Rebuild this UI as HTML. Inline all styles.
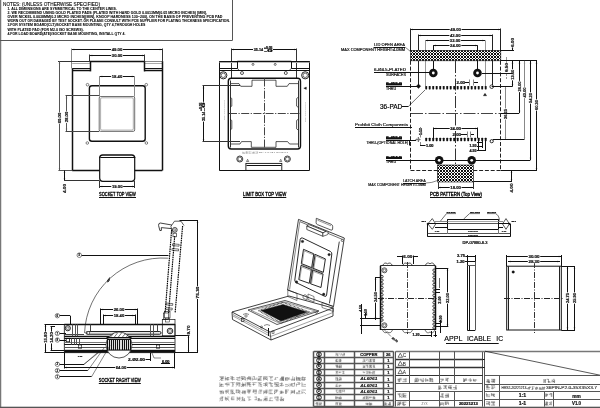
<!DOCTYPE html>
<html><head><meta charset="utf-8"><style>
html,body{margin:0;padding:0;background:#fff;width:600px;height:408px;overflow:hidden;}
svg{display:block;font-family:"Liberation Sans",sans-serif;will-change:transform;}
</style></head><body>
<svg width="600" height="408" viewBox="0 0 600 408">
<defs>
<pattern id="hatch" x="0" y="0" width="3" height="3" patternUnits="userSpaceOnUse">
<rect width="3" height="3" fill="#fff"/>
<path d="M0 0h1v1h-1zM2 0h1v1h-1zM1 1h1v1h-1zM0 2h1v1h-1zM2 2h1v1h-1z" fill="#111"/>
</pattern>
</defs>
<line x1="0.5" y1="0" x2="0.5" y2="408" stroke="#777" stroke-width="1.5"/>
<rect x="0" y="406.7" width="600" height="1.3" fill="#555"/>
<line x1="232.5" y1="0" x2="232.5" y2="40.2" stroke="#555" stroke-width="1"/>
<line x1="0" y1="40.5" x2="232.6" y2="40.5" stroke="#555" stroke-width="1"/>
<text x="3" y="6.2" font-size="4.9" text-anchor="start" font-weight="normal" fill="#000" font-family="Liberation Sans" textLength="97" lengthAdjust="spacingAndGlyphs" stroke="#000" stroke-width="0.1">NOTES: (UNLESS OTHERWISE SPECIFIED)</text>
<text x="7.4" y="10.1" font-size="3.6" text-anchor="start" font-weight="bold" fill="#000" font-family="Liberation Sans" textLength="109.5" lengthAdjust="spacingAndGlyphs"  stroke="#000" stroke-width="0.05">1. ALL DIMENSIONS ARE SYMMETRICAL TO THE CENTER LINES.</text>
<text x="7.4" y="14.1" font-size="3.6" text-anchor="start" font-weight="bold" fill="#000" font-family="Liberation Sans" textLength="199.6" lengthAdjust="spacingAndGlyphs"  stroke="#000" stroke-width="0.05">2. WE RECOMMEND USING GOLD PLATED PADS (PLATED WITH HARD GOLD 0.0013MM(0.05 MICRO INCHES) [MIN],</text>
<text x="7.4" y="18.1" font-size="3.6" text-anchor="start" font-weight="bold" fill="#000" font-family="Liberation Sans" textLength="215" lengthAdjust="spacingAndGlyphs"  stroke="#000" stroke-width="0.05">OVER NICKEL 0.0038MM(0.2 MICRO INCHES)[MIN], KNOOP HARDNESS 130~200), ON THE BASIS OF PREVENTING PCB PAD</text>
<text x="7.4" y="22" font-size="3.6" text-anchor="start" font-weight="bold" fill="#000" font-family="Liberation Sans" textLength="222.6" lengthAdjust="spacingAndGlyphs"  stroke="#000" stroke-width="0.05">WORN OUT OR DAMAGED BY TEST SOCKET. OR PLEASE CONSULT WITH PCB SUPPLIER FOR PLATING THICKNESS SPECIFICATION.</text>
<text x="7.4" y="26.4" font-size="3.6" text-anchor="start" font-weight="bold" fill="#000" font-family="Liberation Sans" textLength="138" lengthAdjust="spacingAndGlyphs"  stroke="#000" stroke-width="0.05">3.FOR SYSTEM BOARD(CLT)/SOCKET BASE MOUNTING, QTY 4,THROUGH HOLES</text>
<text x="7.4" y="30.6" font-size="3.6" text-anchor="start" font-weight="bold" fill="#000" font-family="Liberation Sans" textLength="76.3" lengthAdjust="spacingAndGlyphs"  stroke="#000" stroke-width="0.05">WITH PLATED PAD (FOR M2.0 ISO SCREWS).</text>
<text x="7.4" y="34.7" font-size="3.6" text-anchor="start" font-weight="bold" fill="#000" font-family="Liberation Sans" textLength="118" lengthAdjust="spacingAndGlyphs"  stroke="#000" stroke-width="0.05">4.FOR LOAD BOARD(ATE)/SOCKET BASE MOUNTING, INSTALL QTY 4.</text>
<line x1="71.7" y1="49.5" x2="162.3" y2="49.5" stroke="#111" stroke-width="1"/>
<polygon points="71.7,49.5 74.2,48.75 74.2,50.25" fill="#111"/>
<polygon points="162.3,49.5 159.8,50.25 159.8,48.75" fill="#111"/>
<rect x="111.08" y="47.35" width="11.84" height="3.87" fill="#fff"/>
<text x="117" y="51.05" font-size="4.3" text-anchor="middle" font-weight="bold" fill="#111" font-family="Liberation Sans" textLength="10.64" lengthAdjust="spacingAndGlyphs"  stroke="#111" stroke-width="0.2">49.00</text>
<line x1="89.7" y1="55.5" x2="144.5" y2="55.5" stroke="#111" stroke-width="1"/>
<polygon points="89.7,55.5 92.2,54.75 92.2,56.25" fill="#111"/>
<polygon points="144.5,55.5 142,56.25 142,54.75" fill="#111"/>
<rect x="111.18" y="53.35" width="11.84" height="3.87" fill="#fff"/>
<text x="117.1" y="57.05" font-size="4.3" text-anchor="middle" font-weight="bold" fill="#111" font-family="Liberation Sans" textLength="10.64" lengthAdjust="spacingAndGlyphs"  stroke="#111" stroke-width="0.2">30.00</text>
<line x1="71.5" y1="48.5" x2="71.5" y2="68.5" stroke="#888" stroke-width="1"/>
<line x1="162.5" y1="48.5" x2="162.5" y2="61.5" stroke="#333" stroke-width="1"/>
<line x1="89.5" y1="54.5" x2="89.5" y2="61.5" stroke="#333" stroke-width="1"/>
<line x1="144.5" y1="54.5" x2="144.5" y2="61.5" stroke="#333" stroke-width="1"/>
<line x1="58" y1="61.5" x2="89.7" y2="61.5" stroke="#333" stroke-width="1"/>
<line x1="89.7" y1="61.5" x2="144.5" y2="61.5" stroke="#111" stroke-width="1.5"/>
<line x1="144.5" y1="61.5" x2="162.3" y2="61.5" stroke="#888" stroke-width="1"/>
<line x1="72.2" y1="63.5" x2="90" y2="63.5" stroke="#aaa" stroke-width="1"/>
<line x1="72.2" y1="68.5" x2="90" y2="68.5" stroke="#111" stroke-width="1"/>
<line x1="72.2" y1="70.5" x2="90" y2="70.5" stroke="#111" stroke-width="1.5"/>
<line x1="144.3" y1="63.5" x2="162.3" y2="63.5" stroke="#aaa" stroke-width="1"/>
<line x1="144.3" y1="68.5" x2="162.3" y2="68.5" stroke="#111" stroke-width="1"/>
<line x1="144.3" y1="70.5" x2="162.3" y2="70.5" stroke="#111" stroke-width="1.5"/>
<line x1="90.5" y1="61.2" x2="90.5" y2="71.4" stroke="#111" stroke-width="1.5"/>
<line x1="144.5" y1="61.2" x2="144.5" y2="71.4" stroke="#111" stroke-width="1.5"/>
<line x1="72.5" y1="68.6" x2="72.5" y2="170.5" stroke="#111" stroke-width="1.5"/>
<line x1="162.5" y1="61.2" x2="162.5" y2="170.5" stroke="#111" stroke-width="1.5"/>
<line x1="72.2" y1="170.5" x2="99.7" y2="170.5" stroke="#111" stroke-width="1.5"/>
<line x1="134.7" y1="170.5" x2="162.3" y2="170.5" stroke="#111" stroke-width="1.5"/>
<rect x="89.4" y="85.7" width="55.8" height="55.6" fill="none" stroke="#111" stroke-width="1.4" rx="2.5"/>
<circle cx="87.5" cy="84.7" r="1.3" fill="#fff" stroke="#111" stroke-width="0.5"/>
<circle cx="146.3" cy="84.7" r="1.3" fill="#fff" stroke="#111" stroke-width="0.5"/>
<circle cx="87.3" cy="143" r="1.3" fill="#fff" stroke="#111" stroke-width="0.5"/>
<circle cx="146.4" cy="143" r="1.3" fill="#fff" stroke="#111" stroke-width="0.5"/>
<line x1="99.7" y1="76.5" x2="134.4" y2="76.5" stroke="#111" stroke-width="1"/>
<polygon points="99.7,76.5 102.2,75.75 102.2,77.25" fill="#111"/>
<polygon points="134.4,76.5 131.9,77.25 131.9,75.75" fill="#111"/>
<rect x="111.13" y="74.35" width="11.84" height="3.87" fill="#fff"/>
<text x="117.05" y="78.05" font-size="4.3" text-anchor="middle" font-weight="bold" fill="#111" font-family="Liberation Sans" textLength="10.64" lengthAdjust="spacingAndGlyphs"  stroke="#111" stroke-width="0.2">18.40</text>
<line x1="99.5" y1="76" x2="99.5" y2="96.5" stroke="#888" stroke-width="1"/>
<line x1="134.5" y1="76" x2="134.5" y2="96.5" stroke="#888" stroke-width="1"/>
<rect x="99.2" y="96.5" width="35.5" height="34.9" fill="none" stroke="#333" stroke-width="0.7" rx="1.5"/>
<rect x="100.6" y="97.8" width="32.7" height="32.3" fill="none" stroke="#777" stroke-width="0.6" rx="1.2"/>
<line x1="59.5" y1="61.2" x2="59.5" y2="170.5" stroke="#555" stroke-width="1"/>
<polygon points="59.5,61.2 60.25,63.7 58.75,63.7" fill="#555"/>
<polygon points="59.5,170.5 58.75,168 60.25,168" fill="#555"/>
<rect x="57.35" y="112.08" width="3.87" height="11.84" fill="#fff"/>
<text x="61.05" y="118" font-size="4.3" text-anchor="middle" font-weight="bold" fill="#111" font-family="Liberation Sans" textLength="10.64" lengthAdjust="spacingAndGlyphs" transform="rotate(-90 61.05 118)"  stroke="#111" stroke-width="0.2">60.00</text>
<line x1="66.5" y1="95.7" x2="66.5" y2="131.3" stroke="#555" stroke-width="1"/>
<polygon points="66.5,95.7 67.25,98.2 65.75,98.2" fill="#555"/>
<polygon points="66.5,131.3 65.75,128.8 67.25,128.8" fill="#555"/>
<rect x="64.35" y="111.08" width="3.87" height="11.84" fill="#fff"/>
<text x="68.05" y="117" font-size="4.3" text-anchor="middle" font-weight="bold" fill="#111" font-family="Liberation Sans" textLength="10.64" lengthAdjust="spacingAndGlyphs" transform="rotate(-90 68.05 117)"  stroke="#111" stroke-width="0.2">28.00</text>
<line x1="65.5" y1="95.5" x2="99.2" y2="95.5" stroke="#444" stroke-width="1"/>
<line x1="65.5" y1="131.5" x2="99.2" y2="131.5" stroke="#444" stroke-width="1"/>
<line x1="58.4" y1="170.5" x2="72.2" y2="170.5" stroke="#555" stroke-width="1"/>
<path d="M99.7 157 L99.7 178.3 Q99.7 181.3 102.7 181.3 L131.7 181.3 Q134.7 181.3 134.7 178.3 L134.7 157" fill="none" stroke="#111" stroke-width="1.2" />
<path d="M99.7 158 Q99.7 155 102.7 155 L131.7 155 Q134.7 155 134.7 158" fill="none" stroke="#111" stroke-width="1.3" />
<line x1="100.5" y1="157.5" x2="134" y2="157.5" stroke="#111" stroke-width="1"/>
<line x1="64.5" y1="170.5" x2="64.5" y2="181" stroke="#111" stroke-width="1"/>
<polygon points="64.5,170.5 65.25,173 63.75,173" fill="#111"/>
<polygon points="64.5,181 63.75,178.5 65.25,178.5" fill="#111"/>
<text x="66.2" y="188.5" font-size="4.3" text-anchor="middle" font-weight="bold" fill="#111" font-family="Liberation Sans" textLength="9" lengthAdjust="spacingAndGlyphs" transform="rotate(-90 66.2 188.5)"  stroke="#111" stroke-width="0.2">4.00</text>
<line x1="64" y1="180.5" x2="99.7" y2="180.5" stroke="#333" stroke-width="1"/>
<line x1="99.7" y1="186.5" x2="134.7" y2="186.5" stroke="#111" stroke-width="1"/>
<polygon points="99.7,186.5 102.2,185.75 102.2,187.25" fill="#111"/>
<polygon points="134.7,186.5 132.2,187.25 132.2,185.75" fill="#111"/>
<rect x="111.28" y="184.35" width="11.84" height="3.87" fill="#fff"/>
<text x="117.2" y="188.05" font-size="4.3" text-anchor="middle" font-weight="bold" fill="#111" font-family="Liberation Sans" textLength="10.64" lengthAdjust="spacingAndGlyphs"  stroke="#111" stroke-width="0.2">19.00</text>
<line x1="99.5" y1="181" x2="99.5" y2="188" stroke="#333" stroke-width="1"/>
<line x1="134.5" y1="181" x2="134.5" y2="188" stroke="#333" stroke-width="1"/>
<text x="99" y="195.6" font-size="5.1" text-anchor="start" font-weight="normal" fill="#000" font-family="Liberation Sans" textLength="36.8" lengthAdjust="spacingAndGlyphs"  stroke="#000" stroke-width="0.3">SOCKET  TOP  VIEW</text>
<line x1="99" y1="197.5" x2="136" y2="197.5" stroke="#111" stroke-width="1"/>
<line x1="231.2" y1="49.5" x2="296.5" y2="49.5" stroke="#111" stroke-width="1"/>
<polygon points="231.2,49.5 233.7,48.75 233.7,50.25" fill="#111"/>
<polygon points="296.5,49.5 294,50.25 294,48.75" fill="#111"/>
<rect x="253" y="46.5" width="20" height="6" fill="#fff"/>
<text x="253.7" y="51.3" font-size="3.9" text-anchor="start" font-weight="bold" fill="#111" font-family="Liberation Sans" textLength="9.5" lengthAdjust="spacingAndGlyphs"  stroke="#111" stroke-width="0.2">35.14</text>
<text x="264" y="49" font-size="2.6" text-anchor="start" font-weight="bold" fill="#111" font-family="Liberation Sans" textLength="8.5" lengthAdjust="spacingAndGlyphs"  stroke="#111" stroke-width="0.2">+0.05</text>
<text x="264" y="51.9" font-size="2.6" text-anchor="start" font-weight="bold" fill="#111" font-family="Liberation Sans" textLength="8.5" lengthAdjust="spacingAndGlyphs"  stroke="#111" stroke-width="0.2">-0</text>
<line x1="231.5" y1="48.5" x2="231.5" y2="79" stroke="#333" stroke-width="1"/>
<line x1="296.5" y1="48.5" x2="296.5" y2="79" stroke="#333" stroke-width="1"/>
<line x1="219.5" y1="61.5" x2="309.5" y2="61.5" stroke="#111" stroke-width="1"/>
<line x1="219.5" y1="61.3" x2="219.5" y2="170.4" stroke="#111" stroke-width="1"/>
<line x1="309.5" y1="61.3" x2="309.5" y2="170.4" stroke="#111" stroke-width="1"/>
<line x1="219.3" y1="170.5" x2="309.5" y2="170.5" stroke="#111" stroke-width="1"/>
<line x1="219.5" y1="62.5" x2="237" y2="62.5" stroke="#aaa" stroke-width="1"/>
<line x1="291.5" y1="62.5" x2="309.5" y2="62.5" stroke="#aaa" stroke-width="1"/>
<line x1="219.5" y1="68.5" x2="237.3" y2="68.5" stroke="#111" stroke-width="1"/>
<line x1="291.3" y1="68.5" x2="309.5" y2="68.5" stroke="#111" stroke-width="1"/>
<line x1="219.5" y1="70.5" x2="309.5" y2="70.5" stroke="#111" stroke-width="1"/>
<line x1="237.5" y1="61.3" x2="237.5" y2="68.6" stroke="#111" stroke-width="1"/>
<line x1="291.5" y1="61.3" x2="291.5" y2="68.6" stroke="#111" stroke-width="1"/>
<line x1="237.3" y1="61.5" x2="291.3" y2="61.5" stroke="#111" stroke-width="1.5"/>
<polyline points="237.6,68.5 238.8,70" fill="none" stroke="#111" stroke-width="0.7"/>
<polyline points="291,68.5 289.8,70" fill="none" stroke="#111" stroke-width="0.7"/>
<circle cx="253" cy="64.4" r="1" fill="none" stroke="#111" stroke-width="0.6"/>
<circle cx="275.2" cy="64.4" r="1" fill="none" stroke="#111" stroke-width="0.6"/>
<circle cx="242" cy="73" r="1.5" fill="none" stroke="#111" stroke-width="0.7"/>
<circle cx="285.8" cy="73" r="1.5" fill="none" stroke="#111" stroke-width="0.7"/>
<circle cx="223.3" cy="75.3" r="3.6" fill="none" stroke="#111" stroke-width="0.9"/>
<circle cx="223.3" cy="75.3" r="2.2" fill="none" stroke="#111" stroke-width="0.6"/>
<circle cx="305.2" cy="75.3" r="3.6" fill="none" stroke="#111" stroke-width="0.9"/>
<circle cx="305.2" cy="75.3" r="2.2" fill="none" stroke="#111" stroke-width="0.6"/>
<rect x="228.3" y="78.3" width="72.2" height="70.7" fill="none" stroke="#111" stroke-width="1.4" rx="3"/>
<path d="M230.2 83.6 H239 L240.7 86.3 H252 V80.2 H276 V86.3 H287.3 L289 83.6 H298.2" fill="none" stroke="#111" stroke-width="0.7" />
<path d="M230.2 144 H240 L241.5 141.6 H251.3 V147.3 H276 V141.6 H287.6 L289.6 144 H298.2" fill="none" stroke="#111" stroke-width="0.7" />
<line x1="230.5" y1="80.5" x2="230.5" y2="147.5" stroke="#333" stroke-width="1"/>
<line x1="298.5" y1="80.5" x2="298.5" y2="147.5" stroke="#333" stroke-width="1"/>
<path d="M230.2 97.3 L231.8 98.5 V106.1 L230.2 107.3" fill="none" stroke="#111" stroke-width="0.7" />
<path d="M298.2 97.3 L296.6 98.5 V106.1 L298.2 107.3" fill="none" stroke="#111" stroke-width="0.7" />
<path d="M230.2 119.3 L231.8 120.5 V128.8 L230.2 130" fill="none" stroke="#111" stroke-width="0.7" />
<path d="M298.2 119.3 L296.6 120.5 V128.8 L298.2 130" fill="none" stroke="#111" stroke-width="0.7" />
<line x1="264.5" y1="78.5" x2="264.5" y2="149" stroke="#444" stroke-width="1" stroke-dasharray="8 1.5 1.2 1.5"/>
<line x1="229" y1="113.5" x2="300" y2="113.5" stroke="#444" stroke-width="1" stroke-dasharray="8 1.5 1.2 1.5"/>
<line x1="203.5" y1="85.8" x2="203.5" y2="141.5" stroke="#111" stroke-width="1"/>
<polygon points="203.5,85.8 204.25,88.3 202.75,88.3" fill="#111"/>
<polygon points="203.5,141.5 202.75,139 204.25,139" fill="#111"/>
<rect x="200.5" y="101.8" width="6" height="19.8" fill="#fff"/>
<text x="204.6" y="121" font-size="3.9" text-anchor="start" font-weight="bold" fill="#111" font-family="Liberation Sans" textLength="9.5" lengthAdjust="spacingAndGlyphs" transform="rotate(-90 204.6 121)"  stroke="#111" stroke-width="0.2">35.14</text>
<text x="202.4" y="111" font-size="2.6" text-anchor="start" font-weight="bold" fill="#111" font-family="Liberation Sans" textLength="8.5" lengthAdjust="spacingAndGlyphs" transform="rotate(-90 202.4 111)"  stroke="#111" stroke-width="0.2">+0.05</text>
<text x="205.3" y="111" font-size="2.6" text-anchor="start" font-weight="bold" fill="#111" font-family="Liberation Sans" textLength="8.5" lengthAdjust="spacingAndGlyphs" transform="rotate(-90 205.3 111)"  stroke="#111" stroke-width="0.2">-0</text>
<line x1="202.5" y1="85.5" x2="240" y2="85.5" stroke="#333" stroke-width="1"/>
<line x1="202.5" y1="141.5" x2="240" y2="141.5" stroke="#333" stroke-width="1"/>
<path d="M242.5 152.4H243.81 M242.76 152.88H244.34 M242.5 153.41H245.12 M242.76 151.68V153.6 M244.86 151.92V153.6 M245.7 151.92H248.32 M245.7 152.4H248.06 M245.7 153.41H248.32 M246.49 151.2V153.6 M248.9 151.92H251.52 M248.9 153.41H251.52 M249.16 151.2V153.6 M253.41 151.92H254.46 M252.36 152.4H254.46 M252.36 152.88H254.72 M252.89 153.41H254.72 M253.94 151.92V152.88 M253.41 152.4L252.1 153.6 M255.3 151.92H257.92 M255.3 153.41H257.92 M257.14 151.92V153.12 M257.66 151.68V152.88" fill="none" stroke="#888" stroke-width="0.35"/>
<text x="259" y="153.3" font-size="2.1" text-anchor="start" font-weight="normal" fill="#666" font-family="Liberation Sans" textLength="29" lengthAdjust="spacingAndGlyphs" >BGA P-W-P2 0-35X35X3.7</text>
<circle cx="239.8" cy="159" r="3" fill="none" stroke="#111" stroke-width="0.8"/>
<circle cx="239.8" cy="159" r="1.9" fill="none" stroke="#111" stroke-width="0.6"/>
<circle cx="287.4" cy="159" r="3" fill="none" stroke="#111" stroke-width="0.8"/>
<circle cx="287.4" cy="159" r="1.9" fill="none" stroke="#111" stroke-width="0.6"/>
<polygon points="246.5,161.5 247.6,159.3 248.7,161.5" fill="none" stroke="#111" stroke-width="0.5"/>
<polygon points="279.6,161.5 280.7,159.3 281.8,161.5" fill="none" stroke="#111" stroke-width="0.5"/>
<rect x="245.9" y="163.4" width="35.9" height="7" fill="none" stroke="#111" stroke-width="0.9"/>
<line x1="246.5" y1="165.5" x2="281.2" y2="165.5" stroke="#111" stroke-width="1"/>
<text x="225" y="120" font-size="1.9" text-anchor="start" font-weight="normal" fill="#888" font-family="Liberation Sans" textLength="20" lengthAdjust="spacingAndGlyphs" transform="rotate(-90 225 120)" >PO XXXXXXX</text>
<text x="306" y="122" font-size="1.9" text-anchor="start" font-weight="normal" fill="#888" font-family="Liberation Sans" textLength="20" lengthAdjust="spacingAndGlyphs" transform="rotate(-90 306 122)" >PO XXXXXXX</text>
<polygon points="303.8,88.2 306.3,87 306.3,89.4" fill="#111" stroke="#111" stroke-width="0.4"/>
<text x="243" y="195.6" font-size="5.1" text-anchor="start" font-weight="normal" fill="#000" font-family="Liberation Sans" textLength="43.3" lengthAdjust="spacingAndGlyphs"  stroke="#000" stroke-width="0.3">LIMIT BOX   TOP VIEW</text>
<line x1="243" y1="197.5" x2="286.3" y2="197.5" stroke="#111" stroke-width="1"/>
<line x1="410.5" y1="29.5" x2="500.8" y2="29.5" stroke="#111" stroke-width="1"/>
<polygon points="410.5,29.5 413,28.75 413,30.25" fill="#111"/>
<polygon points="500.8,29.5 498.3,30.25 498.3,28.75" fill="#111"/>
<rect x="449.73" y="27.35" width="11.84" height="3.87" fill="#fff"/>
<text x="455.65" y="31.05" font-size="4.3" text-anchor="middle" font-weight="bold" fill="#111" font-family="Liberation Sans" textLength="10.64" lengthAdjust="spacingAndGlyphs"  stroke="#111" stroke-width="0.2">49.00</text>
<line x1="418.3" y1="35.5" x2="492.3" y2="35.5" stroke="#111" stroke-width="1"/>
<polygon points="418.3,35.5 420.8,34.75 420.8,36.25" fill="#111"/>
<polygon points="492.3,35.5 489.8,36.25 489.8,34.75" fill="#111"/>
<rect x="449.38" y="33.35" width="11.84" height="3.87" fill="#fff"/>
<text x="455.3" y="37.05" font-size="4.3" text-anchor="middle" font-weight="bold" fill="#111" font-family="Liberation Sans" textLength="10.64" lengthAdjust="spacingAndGlyphs"  stroke="#111" stroke-width="0.2">43.00</text>
<line x1="425.3" y1="40.5" x2="485" y2="40.5" stroke="#111" stroke-width="1"/>
<polygon points="425.3,40.5 427.8,39.75 427.8,41.25" fill="#111"/>
<polygon points="485,40.5 482.5,41.25 482.5,39.75" fill="#111"/>
<rect x="449.23" y="38.35" width="11.84" height="3.87" fill="#fff"/>
<text x="455.15" y="42.05" font-size="4.3" text-anchor="middle" font-weight="bold" fill="#111" font-family="Liberation Sans" textLength="10.64" lengthAdjust="spacingAndGlyphs"  stroke="#111" stroke-width="0.2">32.00</text>
<line x1="433.3" y1="45.5" x2="477.5" y2="45.5" stroke="#111" stroke-width="1"/>
<polygon points="433.3,45.5 435.8,44.75 435.8,46.25" fill="#111"/>
<polygon points="477.5,45.5 475,46.25 475,44.75" fill="#111"/>
<rect x="449.48" y="43.35" width="11.84" height="3.87" fill="#fff"/>
<text x="455.4" y="47.05" font-size="4.3" text-anchor="middle" font-weight="bold" fill="#111" font-family="Liberation Sans" textLength="10.64" lengthAdjust="spacingAndGlyphs"  stroke="#111" stroke-width="0.2">24.00</text>
<line x1="410.5" y1="28.5" x2="410.5" y2="51" stroke="#222" stroke-width="1"/>
<line x1="500.5" y1="28.5" x2="500.5" y2="51" stroke="#222" stroke-width="1"/>
<line x1="418.5" y1="34.5" x2="418.5" y2="86" stroke="#222" stroke-width="1"/>
<line x1="492.5" y1="34.5" x2="492.5" y2="85" stroke="#222" stroke-width="1"/>
<line x1="425.5" y1="40.3" x2="425.5" y2="86" stroke="#999" stroke-width="1"/>
<line x1="485.5" y1="40.3" x2="485.5" y2="86" stroke="#999" stroke-width="1"/>
<line x1="433.5" y1="45.3" x2="433.5" y2="70" stroke="#111" stroke-width="1"/>
<line x1="477.5" y1="45.3" x2="477.5" y2="70" stroke="#111" stroke-width="1"/>
<rect x="410.5" y="50.3" width="90.3" height="10.5" fill="url(#hatch)" stroke="#111" stroke-width="0.6"/>
<rect x="437.5" y="165" width="35.8" height="17" fill="url(#hatch)" stroke="#111" stroke-width="0.6"/>
<line x1="410.5" y1="60.8" x2="410.5" y2="170.7" stroke="#222" stroke-width="1" stroke-dasharray="4 1.8"/>
<line x1="500.5" y1="60.8" x2="500.5" y2="170.7" stroke="#222" stroke-width="1" stroke-dasharray="4 1.8"/>
<line x1="410.5" y1="170.5" x2="437.5" y2="170.5" stroke="#222" stroke-width="1" stroke-dasharray="4 1.8"/>
<line x1="473.3" y1="170.5" x2="500.8" y2="170.5" stroke="#222" stroke-width="1" stroke-dasharray="4 1.8"/>
<line x1="455.5" y1="61" x2="455.5" y2="165" stroke="#333" stroke-width="1" stroke-dasharray="12 2 1.5 2"/>
<line x1="411" y1="113.5" x2="500.5" y2="113.5" stroke="#444" stroke-width="1" stroke-dasharray="12 2 1.5 2"/>
<circle cx="433.3" cy="73" r="4.3" fill="#111" stroke="#111" stroke-width="0"/>
<circle cx="433.3" cy="73" r="1.4" fill="#fff" stroke="#fff" stroke-width="0"/>
<circle cx="477.5" cy="73" r="4.3" fill="#111" stroke="#111" stroke-width="0"/>
<circle cx="477.5" cy="73" r="1.4" fill="#fff" stroke="#fff" stroke-width="0"/>
<circle cx="439.2" cy="160.3" r="4.3" fill="#111" stroke="#111" stroke-width="0"/>
<circle cx="439.2" cy="160.3" r="1.4" fill="#fff" stroke="#fff" stroke-width="0"/>
<circle cx="471.7" cy="160.3" r="4.3" fill="#111" stroke="#111" stroke-width="0"/>
<circle cx="471.7" cy="160.3" r="1.4" fill="#fff" stroke="#fff" stroke-width="0"/>
<rect x="425.25" y="85.95" width="1.9" height="3.5" rx="0.6" fill="#111"/>
<rect x="428.75" y="85.95" width="1.9" height="3.5" rx="0.6" fill="#111"/>
<rect x="432.25" y="85.95" width="1.9" height="3.5" rx="0.6" fill="#111"/>
<rect x="435.75" y="85.95" width="1.9" height="3.5" rx="0.6" fill="#111"/>
<rect x="439.25" y="85.95" width="1.9" height="3.5" rx="0.6" fill="#111"/>
<rect x="442.75" y="85.95" width="1.9" height="3.5" rx="0.6" fill="#111"/>
<rect x="446.25" y="85.95" width="1.9" height="3.5" rx="0.6" fill="#111"/>
<rect x="449.75" y="85.95" width="1.9" height="3.5" rx="0.6" fill="#111"/>
<rect x="453.25" y="85.95" width="1.9" height="3.5" rx="0.6" fill="#111"/>
<rect x="456.75" y="85.95" width="1.9" height="3.5" rx="0.6" fill="#111"/>
<rect x="460.25" y="85.95" width="1.9" height="3.5" rx="0.6" fill="#111"/>
<rect x="463.75" y="85.95" width="1.9" height="3.5" rx="0.6" fill="#111"/>
<rect x="467.25" y="85.95" width="1.9" height="3.5" rx="0.6" fill="#111"/>
<rect x="470.75" y="85.95" width="1.9" height="3.5" rx="0.6" fill="#111"/>
<rect x="474.25" y="85.95" width="1.9" height="3.5" rx="0.6" fill="#111"/>
<rect x="477.75" y="85.95" width="1.9" height="3.5" rx="0.6" fill="#111"/>
<rect x="481.25" y="85.95" width="1.9" height="3.5" rx="0.6" fill="#111"/>
<rect x="484.75" y="85.95" width="1.9" height="3.5" rx="0.6" fill="#111"/>
<rect x="425.25" y="137.65" width="1.9" height="3.5" rx="0.6" fill="#111"/>
<rect x="428.75" y="137.65" width="1.9" height="3.5" rx="0.6" fill="#111"/>
<rect x="432.25" y="137.65" width="1.9" height="3.5" rx="0.6" fill="#111"/>
<rect x="435.75" y="137.65" width="1.9" height="3.5" rx="0.6" fill="#111"/>
<rect x="439.25" y="137.65" width="1.9" height="3.5" rx="0.6" fill="#111"/>
<rect x="442.75" y="137.65" width="1.9" height="3.5" rx="0.6" fill="#111"/>
<rect x="446.25" y="137.65" width="1.9" height="3.5" rx="0.6" fill="#111"/>
<rect x="449.75" y="137.65" width="1.9" height="3.5" rx="0.6" fill="#111"/>
<rect x="453.25" y="137.65" width="1.9" height="3.5" rx="0.6" fill="#111"/>
<rect x="456.75" y="137.65" width="1.9" height="3.5" rx="0.6" fill="#111"/>
<rect x="460.25" y="137.65" width="1.9" height="3.5" rx="0.6" fill="#111"/>
<rect x="463.75" y="137.65" width="1.9" height="3.5" rx="0.6" fill="#111"/>
<rect x="467.25" y="137.65" width="1.9" height="3.5" rx="0.6" fill="#111"/>
<rect x="470.75" y="137.65" width="1.9" height="3.5" rx="0.6" fill="#111"/>
<rect x="474.25" y="137.65" width="1.9" height="3.5" rx="0.6" fill="#111"/>
<rect x="477.75" y="137.65" width="1.9" height="3.5" rx="0.6" fill="#111"/>
<rect x="481.25" y="137.65" width="1.9" height="3.5" rx="0.6" fill="#111"/>
<rect x="484.75" y="137.65" width="1.9" height="3.5" rx="0.6" fill="#111"/>
<polygon points="418.5,83.9 420.8,86.2 418.5,88.5 416.2,86.2" fill="#111" stroke="#111" stroke-width="0.3"/>
<circle cx="491.7" cy="86.7" r="1.8" fill="#fff" stroke="#111" stroke-width="0.8"/>
<polygon points="483.3,95.8 485,93.2 486.7,95.8" fill="#111" stroke="#111" stroke-width="0.3"/>
<circle cx="418" cy="139.5" r="1.6" fill="none" stroke="#777" stroke-width="0.5"/>
<line x1="415.5" y1="139.5" x2="420.5" y2="139.5" stroke="#777" stroke-width="1"/>
<line x1="418.5" y1="137" x2="418.5" y2="142" stroke="#777" stroke-width="1"/>
<circle cx="491.7" cy="141.2" r="1.6" fill="#fff" stroke="#111" stroke-width="0.9"/>
<text x="405" y="45.8" font-size="3" text-anchor="end" font-weight="normal" fill="#111" font-family="Liberation Sans" textLength="31" lengthAdjust="spacingAndGlyphs"  stroke="#111" stroke-width="0.14">LID OPEN AREA</text>
<line x1="373.5" y1="47.5" x2="405" y2="47.5" stroke="#111" stroke-width="1"/>
<line x1="405" y1="47" x2="410.5" y2="51.5" stroke="#111" stroke-width="0.5"/>
<text x="405" y="50.8" font-size="3" text-anchor="end" font-weight="normal" fill="#111" font-family="Liberation Sans" textLength="64" lengthAdjust="spacingAndGlyphs"  stroke="#111" stroke-width="0.14">MAX COMPONENT HEIGHT:4.0MM</text>
<text x="406" y="71.2" font-size="3" text-anchor="end" font-weight="normal" fill="#111" font-family="Liberation Sans" textLength="32" lengthAdjust="spacingAndGlyphs"  stroke="#111" stroke-width="0.14">6-Ø4.5-PLATED</text>
<text x="406" y="76.3" font-size="3" text-anchor="end" font-weight="normal" fill="#111" font-family="Liberation Sans" textLength="20" lengthAdjust="spacingAndGlyphs"  stroke="#111" stroke-width="0.14">SURFACES</text>
<line x1="374" y1="72.5" x2="430" y2="72.5" stroke="#111" stroke-width="1"/>
<text x="386" y="85.4" font-size="3" text-anchor="start" font-weight="bold" fill="#111" font-family="Liberation Sans" textLength="16" lengthAdjust="spacingAndGlyphs"  stroke="#111" stroke-width="0.2">6-Ø2.0</text>
<rect x="386" y="83.2" width="16" height="2.2" fill="#111"/>
<text x="386" y="89.6" font-size="2.8" text-anchor="start" font-weight="normal" fill="#111" font-family="Liberation Sans" textLength="10" lengthAdjust="spacingAndGlyphs"  stroke="#111" stroke-width="0.14">THRU</text>
<line x1="386" y1="86.5" x2="417" y2="86.5" stroke="#111" stroke-width="1"/>
<text x="402.3" y="108.7" font-size="6.3" text-anchor="end" font-weight="normal" fill="#000" font-family="Liberation Sans" textLength="22.3" lengthAdjust="spacingAndGlyphs"  stroke="#000" stroke-width="0.18">36-PAD</text>
<line x1="402" y1="106.5" x2="408.5" y2="106.5" stroke="#111" stroke-width="1"/>
<line x1="408.5" y1="106.3" x2="425" y2="90" stroke="#111" stroke-width="0.6"/>
<text x="355" y="126" font-size="3.2" text-anchor="start" font-weight="normal" fill="#111" font-family="Liberation Sans" textLength="53" lengthAdjust="spacingAndGlyphs"  stroke="#111" stroke-width="0.14">Prohibit Cloth Components</text>
<line x1="355" y1="127.5" x2="412" y2="127.5" stroke="#111" stroke-width="1"/>
<text x="421.8" y="135" font-size="2.8" text-anchor="start" font-weight="bold" fill="#111" font-family="Liberation Sans" textLength="7" lengthAdjust="spacingAndGlyphs" transform="rotate(-90 421.8 135)"  stroke="#111" stroke-width="0.2">1.50</text>
<line x1="420.5" y1="127" x2="420.5" y2="137.5" stroke="#888" stroke-width="1"/>
<text x="386" y="139.4" font-size="3" text-anchor="start" font-weight="bold" fill="#111" font-family="Liberation Sans" textLength="16" lengthAdjust="spacingAndGlyphs"  stroke="#111" stroke-width="0.2">6-Ø2.0</text>
<rect x="386" y="137.2" width="16" height="2.2" fill="#111"/>
<text x="366.3" y="144.4" font-size="3" text-anchor="start" font-weight="normal" fill="#111" font-family="Liberation Sans" textLength="42" lengthAdjust="spacingAndGlyphs"  stroke="#111" stroke-width="0.14">THRU-(OPTIONAL HOLE)</text>
<line x1="386" y1="140.5" x2="416" y2="140.5" stroke="#111" stroke-width="1"/>
<line x1="386" y1="140.5" x2="409" y2="140.5" stroke="#111" stroke-width="1"/>
<line x1="409.5" y1="140.5" x2="409.5" y2="145.5" stroke="#111" stroke-width="1"/>
<text x="426" y="147" font-size="3" text-anchor="start" font-weight="bold" fill="#111" font-family="Liberation Sans" textLength="7.5" lengthAdjust="spacingAndGlyphs"  stroke="#111" stroke-width="0.2">1.00</text>
<line x1="420.5" y1="142" x2="420.5" y2="146" stroke="#888" stroke-width="1"/>
<line x1="420" y1="145.5" x2="425.5" y2="145.5" stroke="#111" stroke-width="1"/>
<text x="386" y="159" font-size="3" text-anchor="start" font-weight="bold" fill="#111" font-family="Liberation Sans" textLength="16" lengthAdjust="spacingAndGlyphs"  stroke="#111" stroke-width="0.2">6-Ø4.5</text>
<rect x="386" y="156.8" width="16" height="2.2" fill="#111"/>
<text x="386" y="163.2" font-size="2.8" text-anchor="start" font-weight="normal" fill="#111" font-family="Liberation Sans" textLength="10" lengthAdjust="spacingAndGlyphs"  stroke="#111" stroke-width="0.14">THRU</text>
<line x1="386" y1="160.5" x2="435.5" y2="160.5" stroke="#111" stroke-width="1"/>
<line x1="443" y1="160.5" x2="468" y2="160.5" stroke="#111" stroke-width="1"/>
<line x1="475.5" y1="160.5" x2="530.2" y2="160.5" stroke="#111" stroke-width="1"/>
<text x="425.8" y="181.8" font-size="3" text-anchor="end" font-weight="normal" fill="#111" font-family="Liberation Sans" textLength="22.8" lengthAdjust="spacingAndGlyphs"  stroke="#111" stroke-width="0.14">LATCH AREA</text>
<text x="425.8" y="186.3" font-size="3" text-anchor="end" font-weight="normal" fill="#111" font-family="Liberation Sans" textLength="57.5" lengthAdjust="spacingAndGlyphs"  stroke="#111" stroke-width="0.14">MAX COMPONENT HEIGHT:1.5MM</text>
<line x1="403" y1="183.5" x2="425.8" y2="183.5" stroke="#111" stroke-width="1"/>
<path d="M425.8 183 Q432 183 437.5 180.5" fill="none" stroke="#111" stroke-width="0.5" />
<line x1="438" y1="187.5" x2="473.3" y2="187.5" stroke="#111" stroke-width="1"/>
<polygon points="438,187.5 440.5,186.75 440.5,188.25" fill="#111"/>
<polygon points="473.3,187.5 470.8,188.25 470.8,186.75" fill="#111"/>
<rect x="449.73" y="185.35" width="11.84" height="3.87" fill="#fff"/>
<text x="455.65" y="189.05" font-size="4.3" text-anchor="middle" font-weight="bold" fill="#111" font-family="Liberation Sans" textLength="10.64" lengthAdjust="spacingAndGlyphs"  stroke="#111" stroke-width="0.2">18.00</text>
<line x1="438.5" y1="182" x2="438.5" y2="189" stroke="#333" stroke-width="1"/>
<line x1="473.5" y1="182" x2="473.5" y2="189" stroke="#333" stroke-width="1"/>
<text x="430" y="195.8" font-size="5" text-anchor="start" font-weight="normal" fill="#000" font-family="Liberation Sans" textLength="52" lengthAdjust="spacingAndGlyphs"  stroke="#000" stroke-width="0.3">PCB  PATTERN  (Top  View)</text>
<line x1="430" y1="197.5" x2="481.7" y2="197.5" stroke="#111" stroke-width="1"/>
<line x1="433.7" y1="128.5" x2="477.5" y2="128.5" stroke="#111" stroke-width="1"/>
<polygon points="433.7,128.5 436.2,127.75 436.2,129.25" fill="#111"/>
<polygon points="477.5,128.5 475,129.25 475,127.75" fill="#111"/>
<rect x="449.68" y="126.85" width="11.84" height="2.97" fill="#fff"/>
<text x="455.6" y="129.69" font-size="3.3" text-anchor="middle" font-weight="bold" fill="#111" font-family="Liberation Sans" textLength="10.64" lengthAdjust="spacingAndGlyphs"  stroke="#111" stroke-width="0.2">24.00</text>
<line x1="433.5" y1="127.5" x2="433.5" y2="138" stroke="#111" stroke-width="1"/>
<line x1="477.5" y1="127.5" x2="477.5" y2="138" stroke="#111" stroke-width="1"/>
<text x="461" y="135.5" font-size="3.6" text-anchor="end" font-weight="bold" fill="#111" font-family="Liberation Sans" textLength="8.5" lengthAdjust="spacingAndGlyphs"  stroke="#111" stroke-width="0.2">2.00</text>
<line x1="461" y1="134.5" x2="467.5" y2="134.5" stroke="#111" stroke-width="1"/>
<line x1="470.5" y1="134.5" x2="474" y2="134.5" stroke="#111" stroke-width="1"/>
<line x1="467.5" y1="131.5" x2="467.5" y2="137.5" stroke="#888" stroke-width="1"/>
<line x1="470.5" y1="131.5" x2="470.5" y2="137.5" stroke="#888" stroke-width="1"/>
<text x="465" y="83.5" font-size="3.6" text-anchor="end" font-weight="bold" fill="#111" font-family="Liberation Sans" textLength="8.5" lengthAdjust="spacingAndGlyphs"  stroke="#111" stroke-width="0.2">2.00</text>
<line x1="465" y1="82.5" x2="469.5" y2="82.5" stroke="#111" stroke-width="1"/>
<line x1="473" y1="82.5" x2="478" y2="82.5" stroke="#111" stroke-width="1"/>
<line x1="469.5" y1="79.5" x2="469.5" y2="85.5" stroke="#888" stroke-width="1"/>
<line x1="473.5" y1="79.5" x2="473.5" y2="85.5" stroke="#888" stroke-width="1"/>
<line x1="478.5" y1="141" x2="478.5" y2="151" stroke="#111" stroke-width="1"/>
<line x1="482.5" y1="141" x2="482.5" y2="148" stroke="#111" stroke-width="1"/>
<line x1="485.5" y1="141" x2="485.5" y2="151" stroke="#111" stroke-width="1"/>
<text x="476.5" y="147.3" font-size="3" text-anchor="end" font-weight="bold" fill="#111" font-family="Liberation Sans" textLength="7" lengthAdjust="spacingAndGlyphs"  stroke="#111" stroke-width="0.2">1.50</text>
<line x1="477" y1="146.5" x2="482" y2="146.5" stroke="#111" stroke-width="1"/>
<text x="476.5" y="151.6" font-size="3" text-anchor="end" font-weight="bold" fill="#111" font-family="Liberation Sans" textLength="7" lengthAdjust="spacingAndGlyphs"  stroke="#111" stroke-width="0.2">4.50</text>
<line x1="477" y1="150.5" x2="485.5" y2="150.5" stroke="#111" stroke-width="1"/>
<line x1="477" y1="142.5" x2="482" y2="142.5" stroke="#111" stroke-width="1"/>
<line x1="512.5" y1="47.6" x2="512.5" y2="50.3" stroke="#111" stroke-width="1"/>
<polygon points="512.5,50.3 511.75,47.8 513.25,47.8" fill="#111"/>
<text x="514" y="42.5" font-size="4.3" text-anchor="middle" font-weight="bold" fill="#111" font-family="Liberation Sans" textLength="9" lengthAdjust="spacingAndGlyphs" transform="rotate(-90 514 42.5)"  stroke="#111" stroke-width="0.2">6.00</text>
<line x1="500.8" y1="50.5" x2="514" y2="50.5" stroke="#111" stroke-width="1"/>
<line x1="500.8" y1="60.5" x2="537" y2="60.5" stroke="#111" stroke-width="1"/>
<line x1="506.5" y1="57" x2="506.5" y2="79" stroke="#999" stroke-width="1" stroke-dasharray="3 1"/>
<text x="507.5" y="67.5" font-size="4" text-anchor="middle" font-weight="bold" fill="#222" font-family="Liberation Sans" textLength="9" lengthAdjust="spacingAndGlyphs" transform="rotate(-90 507.5 67.5)"  stroke="#222" stroke-width="0.2">6.50</text>
<line x1="512.5" y1="60.9" x2="512.5" y2="86.5" stroke="#111" stroke-width="1"/>
<polygon points="512.5,60.9 513.25,63.4 511.75,63.4" fill="#111"/>
<polygon points="512.5,86.5 511.75,84 513.25,84" fill="#111"/>
<rect x="510.35" y="69.06" width="3.87" height="11.28" fill="#fff"/>
<text x="514.05" y="74.7" font-size="4.3" text-anchor="middle" font-weight="bold" fill="#111" font-family="Liberation Sans" textLength="10.08" lengthAdjust="spacingAndGlyphs" transform="rotate(-90 514.05 74.7)"  stroke="#111" stroke-width="0.2">13.60</text>
<line x1="519.5" y1="60.9" x2="519.5" y2="113.2" stroke="#111" stroke-width="1"/>
<polygon points="519.5,60.9 520.25,63.4 518.75,63.4" fill="#111"/>
<polygon points="519.5,113.2 518.75,110.7 520.25,110.7" fill="#111"/>
<rect x="517.35" y="80.86" width="3.87" height="11.28" fill="#fff"/>
<text x="521.05" y="86.5" font-size="4.3" text-anchor="middle" font-weight="bold" fill="#111" font-family="Liberation Sans" textLength="10.08" lengthAdjust="spacingAndGlyphs" transform="rotate(-90 521.05 86.5)"  stroke="#111" stroke-width="0.2">26.00</text>
<line x1="524.5" y1="60.9" x2="524.5" y2="139.6" stroke="#888" stroke-width="1"/>
<polygon points="524.5,60.9 525.25,63.4 523.75,63.4" fill="#888"/>
<polygon points="524.5,139.6 523.75,137.1 525.25,137.1" fill="#888"/>
<rect x="522.35" y="86.86" width="3.87" height="11.28" fill="#fff"/>
<text x="526.05" y="92.5" font-size="4.3" text-anchor="middle" font-weight="bold" fill="#111" font-family="Liberation Sans" textLength="10.08" lengthAdjust="spacingAndGlyphs" transform="rotate(-90 526.05 92.5)"  stroke="#111" stroke-width="0.2">43.00</text>
<line x1="530.5" y1="60.9" x2="530.5" y2="160.2" stroke="#111" stroke-width="1"/>
<polygon points="530.5,60.9 531.25,63.4 529.75,63.4" fill="#111"/>
<polygon points="530.5,160.2 529.75,157.7 531.25,157.7" fill="#111"/>
<rect x="528.35" y="92.36" width="3.87" height="11.28" fill="#fff"/>
<text x="532.05" y="98" font-size="4.3" text-anchor="middle" font-weight="bold" fill="#111" font-family="Liberation Sans" textLength="10.08" lengthAdjust="spacingAndGlyphs" transform="rotate(-90 532.05 98)"  stroke="#111" stroke-width="0.2">54.20</text>
<line x1="536.5" y1="60.9" x2="536.5" y2="170.6" stroke="#111" stroke-width="1"/>
<polygon points="536.5,60.9 537.25,63.4 535.75,63.4" fill="#111"/>
<polygon points="536.5,170.6 535.75,168.1 537.25,168.1" fill="#111"/>
<rect x="534.35" y="99.36" width="3.87" height="11.28" fill="#fff"/>
<text x="538.05" y="105" font-size="4.3" text-anchor="middle" font-weight="bold" fill="#111" font-family="Liberation Sans" textLength="10.08" lengthAdjust="spacingAndGlyphs" transform="rotate(-90 538.05 105)"  stroke="#111" stroke-width="0.2">60.30</text>
<line x1="505.5" y1="86.5" x2="505.5" y2="139.6" stroke="#888" stroke-width="1"/>
<polygon points="505.5,86.5 506.25,89 504.75,89" fill="#888"/>
<polygon points="505.5,139.6 504.75,137.1 506.25,137.1" fill="#888"/>
<rect x="503.35" y="108.36" width="3.87" height="11.28" fill="#fff"/>
<text x="507.05" y="114" font-size="4.3" text-anchor="middle" font-weight="bold" fill="#111" font-family="Liberation Sans" textLength="10.08" lengthAdjust="spacingAndGlyphs" transform="rotate(-90 507.05 114)"  stroke="#111" stroke-width="0.2">36.25</text>
<line x1="491.7" y1="86.5" x2="512.5" y2="86.5" stroke="#111" stroke-width="1"/>
<line x1="482" y1="73.5" x2="512.5" y2="73.5" stroke="#111" stroke-width="1"/>
<line x1="500.8" y1="113.5" x2="519" y2="113.5" stroke="#111" stroke-width="1"/>
<line x1="493" y1="139.5" x2="524.3" y2="139.5" stroke="#111" stroke-width="1"/>
<line x1="500.8" y1="170.5" x2="537" y2="170.5" stroke="#111" stroke-width="1"/>
<line x1="511.5" y1="170.6" x2="511.5" y2="181.8" stroke="#111" stroke-width="1"/>
<polygon points="511.5,170.6 512.25,173.1 510.75,173.1" fill="#111"/>
<polygon points="511.5,181.8 510.75,179.3 512.25,179.3" fill="#111"/>
<text x="512.9" y="188" font-size="4.3" text-anchor="middle" font-weight="bold" fill="#111" font-family="Liberation Sans" textLength="9" lengthAdjust="spacingAndGlyphs" transform="rotate(-90 512.9 188)"  stroke="#111" stroke-width="0.2">4.00</text>
<line x1="473.3" y1="181.5" x2="512" y2="181.5" stroke="#111" stroke-width="1"/>
<polygon points="427.8,223.9 432.3,218.6 435.7,223.9 432.3,229.3" fill="none" stroke="#111" stroke-width="0.7"/>
<circle cx="427.8" cy="223.9" r="0.9" fill="#111" stroke="#111" stroke-width="0.3"/>
<line x1="427.8" y1="223.5" x2="447.6" y2="223.5" stroke="#111" stroke-width="1"/>
<line x1="435" y1="221.5" x2="447.6" y2="221.5" stroke="#888" stroke-width="1"/>
<line x1="435" y1="227.5" x2="447.6" y2="227.5" stroke="#111" stroke-width="1"/>
<line x1="447.5" y1="219.2" x2="447.5" y2="229.6" stroke="#111" stroke-width="1"/>
<line x1="498.5" y1="219.2" x2="498.5" y2="229.6" stroke="#111" stroke-width="1"/>
<line x1="447.6" y1="219.5" x2="498.3" y2="219.5" stroke="#111" stroke-width="1"/>
<line x1="447.6" y1="229.5" x2="498.3" y2="229.5" stroke="#111" stroke-width="1"/>
<line x1="447.6" y1="223.5" x2="498.3" y2="223.5" stroke="#555" stroke-width="1"/>
<line x1="447.6" y1="221.5" x2="498.3" y2="221.5" stroke="#aaa" stroke-width="1"/>
<line x1="498.3" y1="221.5" x2="503" y2="221.5" stroke="#888" stroke-width="1"/>
<line x1="498.3" y1="227.5" x2="503" y2="227.5" stroke="#111" stroke-width="1"/>
<line x1="498.3" y1="223.5" x2="510" y2="223.5" stroke="#111" stroke-width="1"/>
<polygon points="502.5,223.9 506,218.6 509.4,223.9 506,229.3" fill="none" stroke="#111" stroke-width="0.7"/>
<circle cx="509.6" cy="223.9" r="0.9" fill="#111" stroke="#111" stroke-width="0.3"/>
<line x1="427.5" y1="224" x2="427.5" y2="236.8" stroke="#111" stroke-width="1"/>
<line x1="510.5" y1="224" x2="510.5" y2="236.8" stroke="#111" stroke-width="1"/>
<line x1="427.8" y1="233.5" x2="510.2" y2="233.5" stroke="#555" stroke-width="1"/>
<line x1="427.8" y1="236.5" x2="510.2" y2="236.5" stroke="#111" stroke-width="1"/>
<line x1="447.5" y1="229.6" x2="447.5" y2="234" stroke="#777" stroke-width="1"/>
<line x1="498.5" y1="229.6" x2="498.5" y2="234" stroke="#777" stroke-width="1"/>
<text x="437" y="232.3" font-size="2" text-anchor="middle" font-weight="bold" fill="#333" font-family="Liberation Sans" textLength="4.5" lengthAdjust="spacingAndGlyphs"  stroke="#333" stroke-width="0.2">1.50</text>
<text x="473" y="231.9" font-size="1.8" text-anchor="middle" font-weight="bold" fill="#333" font-family="Liberation Sans" textLength="10" lengthAdjust="spacingAndGlyphs"  stroke="#333" stroke-width="0.2">XXXXXXX</text>
<text x="473" y="235.6" font-size="1.8" text-anchor="middle" font-weight="bold" fill="#333" font-family="Liberation Sans" textLength="10" lengthAdjust="spacingAndGlyphs"  stroke="#333" stroke-width="0.2">XXXXXXX</text>
<text x="504" y="232.3" font-size="2" text-anchor="middle" font-weight="bold" fill="#333" font-family="Liberation Sans" textLength="4.5" lengthAdjust="spacingAndGlyphs"  stroke="#333" stroke-width="0.2">0.90</text>
<text x="426" y="222.3" font-size="2" text-anchor="end" font-weight="bold" fill="#111" font-family="Liberation Sans" textLength="4.5" lengthAdjust="spacingAndGlyphs"  stroke="#111" stroke-width="0.2">Ø0.6</text>
<text x="511.5" y="222.3" font-size="2" text-anchor="start" font-weight="bold" fill="#111" font-family="Liberation Sans" textLength="4.5" lengthAdjust="spacingAndGlyphs"  stroke="#111" stroke-width="0.2">Ø0.6</text>
<text x="446.5" y="212.8" font-size="2.3" text-anchor="start" font-weight="bold" fill="#111" font-family="Liberation Sans" textLength="9" lengthAdjust="spacingAndGlyphs"  stroke="#111" stroke-width="0.2">Ø0.50±</text>
<path d="M456 213.6 L446.5 213.6 L440.5 221" fill="none" stroke="#111" stroke-width="0.6" />
<text x="470" y="212.8" font-size="2.3" text-anchor="start" font-weight="bold" fill="#111" font-family="Liberation Sans" textLength="10" lengthAdjust="spacingAndGlyphs"  stroke="#111" stroke-width="0.2">Ø0.90±</text>
<path d="M480 213.6 L469.5 213.6 L463.5 219.2" fill="none" stroke="#111" stroke-width="0.6" />
<text x="487" y="212.8" font-size="2.3" text-anchor="start" font-weight="bold" fill="#111" font-family="Liberation Sans" textLength="9" lengthAdjust="spacingAndGlyphs"  stroke="#111" stroke-width="0.2">Ø0.50±</text>
<path d="M487 213.6 L495.5 213.6 Q499 215 499.5 220.5" fill="none" stroke="#111" stroke-width="0.6" />
<text x="462.5" y="244.4" font-size="3.3" text-anchor="start" font-weight="normal" fill="#000" font-family="Liberation Sans" textLength="25" lengthAdjust="spacingAndGlyphs"  stroke="#000" stroke-width="0.2">DP-07880-6.3</text>
<line x1="380.3" y1="265.5" x2="435.5" y2="265.5" stroke="#333" stroke-width="1"/>
<line x1="380.3" y1="329.5" x2="435.5" y2="329.5" stroke="#222" stroke-width="1"/>
<line x1="380.5" y1="265.8" x2="380.5" y2="330" stroke="#111" stroke-width="1.5"/>
<line x1="435.5" y1="265.8" x2="435.5" y2="330" stroke="#111" stroke-width="1.5"/>
<path d="M382.5 265.8 Q384.5 261.5 387.5 263.8 Q390.5 261.5 392.5 265.8" fill="none" stroke="#111" stroke-width="0.7" />
<path d="M382.5 330 Q384.5 334.3 387.5 332 Q390.5 334.3 392.5 330" fill="none" stroke="#333" stroke-width="0.7" />
<path d="M402.5 265.8 Q404.5 261.5 407.5 263.8 Q410.5 261.5 412.5 265.8" fill="none" stroke="#111" stroke-width="0.7" />
<path d="M402.5 330 Q404.5 334.3 407.5 332 Q410.5 334.3 412.5 330" fill="none" stroke="#333" stroke-width="0.7" />
<path d="M425 265.8 Q427 261.5 430 263.8 Q433 261.5 435 265.8" fill="none" stroke="#111" stroke-width="0.7" />
<path d="M425 330 Q427 334.3 430 332 Q433 334.3 435 330" fill="none" stroke="#333" stroke-width="0.7" />
<path d="M380.6 275.45 h1.5 q1.1 0 1.1 1.15 q0 1.15 -1.1 1.15 h-1.5" fill="none" stroke="#111" stroke-width="0.8" />
<path d="M380.6 279.07 h1.5 q1.1 0 1.1 1.15 q0 1.15 -1.1 1.15 h-1.5" fill="none" stroke="#111" stroke-width="0.8" />
<path d="M380.6 282.69 h1.5 q1.1 0 1.1 1.15 q0 1.15 -1.1 1.15 h-1.5" fill="none" stroke="#111" stroke-width="0.8" />
<path d="M380.6 286.31 h1.5 q1.1 0 1.1 1.15 q0 1.15 -1.1 1.15 h-1.5" fill="none" stroke="#111" stroke-width="0.8" />
<path d="M380.6 289.93 h1.5 q1.1 0 1.1 1.15 q0 1.15 -1.1 1.15 h-1.5" fill="none" stroke="#111" stroke-width="0.8" />
<path d="M380.6 293.55 h1.5 q1.1 0 1.1 1.15 q0 1.15 -1.1 1.15 h-1.5" fill="none" stroke="#111" stroke-width="0.8" />
<path d="M380.6 297.17 h1.5 q1.1 0 1.1 1.15 q0 1.15 -1.1 1.15 h-1.5" fill="none" stroke="#111" stroke-width="0.8" />
<path d="M380.6 300.79 h1.5 q1.1 0 1.1 1.15 q0 1.15 -1.1 1.15 h-1.5" fill="none" stroke="#111" stroke-width="0.8" />
<path d="M380.6 304.41 h1.5 q1.1 0 1.1 1.15 q0 1.15 -1.1 1.15 h-1.5" fill="none" stroke="#111" stroke-width="0.8" />
<path d="M380.6 308.03 h1.5 q1.1 0 1.1 1.15 q0 1.15 -1.1 1.15 h-1.5" fill="none" stroke="#111" stroke-width="0.8" />
<path d="M380.6 311.65 h1.5 q1.1 0 1.1 1.15 q0 1.15 -1.1 1.15 h-1.5" fill="none" stroke="#111" stroke-width="0.8" />
<path d="M380.6 315.27 h1.5 q1.1 0 1.1 1.15 q0 1.15 -1.1 1.15 h-1.5" fill="none" stroke="#111" stroke-width="0.8" />
<path d="M380.6 318.89 h1.5 q1.1 0 1.1 1.15 q0 1.15 -1.1 1.15 h-1.5" fill="none" stroke="#111" stroke-width="0.8" />
<path d="M435.4 269.05 h-1.5 q-1.1 0 -1.1 1.15 q0 1.15 1.1 1.15 h1.5" fill="none" stroke="#111" stroke-width="0.8" />
<path d="M435.4 272.65 h-1.5 q-1.1 0 -1.1 1.15 q0 1.15 1.1 1.15 h1.5" fill="none" stroke="#111" stroke-width="0.8" />
<path d="M435.4 276.25 h-1.5 q-1.1 0 -1.1 1.15 q0 1.15 1.1 1.15 h1.5" fill="none" stroke="#111" stroke-width="0.8" />
<path d="M435.4 279.85 h-1.5 q-1.1 0 -1.1 1.15 q0 1.15 1.1 1.15 h1.5" fill="none" stroke="#111" stroke-width="0.8" />
<path d="M435.4 283.45 h-1.5 q-1.1 0 -1.1 1.15 q0 1.15 1.1 1.15 h1.5" fill="none" stroke="#111" stroke-width="0.8" />
<path d="M435.4 287.05 h-1.5 q-1.1 0 -1.1 1.15 q0 1.15 1.1 1.15 h1.5" fill="none" stroke="#111" stroke-width="0.8" />
<path d="M435.4 290.65 h-1.5 q-1.1 0 -1.1 1.15 q0 1.15 1.1 1.15 h1.5" fill="none" stroke="#111" stroke-width="0.8" />
<path d="M435.4 294.25 h-1.5 q-1.1 0 -1.1 1.15 q0 1.15 1.1 1.15 h1.5" fill="none" stroke="#111" stroke-width="0.8" />
<path d="M435.4 297.85 h-1.5 q-1.1 0 -1.1 1.15 q0 1.15 1.1 1.15 h1.5" fill="none" stroke="#111" stroke-width="0.8" />
<path d="M435.4 301.45 h-1.5 q-1.1 0 -1.1 1.15 q0 1.15 1.1 1.15 h1.5" fill="none" stroke="#111" stroke-width="0.8" />
<path d="M435.4 305.05 h-1.5 q-1.1 0 -1.1 1.15 q0 1.15 1.1 1.15 h1.5" fill="none" stroke="#111" stroke-width="0.8" />
<path d="M435.4 308.65 h-1.5 q-1.1 0 -1.1 1.15 q0 1.15 1.1 1.15 h1.5" fill="none" stroke="#111" stroke-width="0.8" />
<path d="M435.4 312.25 h-1.5 q-1.1 0 -1.1 1.15 q0 1.15 1.1 1.15 h1.5" fill="none" stroke="#111" stroke-width="0.8" />
<path d="M435.4 315.85 h-1.5 q-1.1 0 -1.1 1.15 q0 1.15 1.1 1.15 h1.5" fill="none" stroke="#111" stroke-width="0.8" />
<path d="M435.4 319.45 h-1.5 q-1.1 0 -1.1 1.15 q0 1.15 1.1 1.15 h1.5" fill="none" stroke="#111" stroke-width="0.8" />
<path d="M435.4 323.05 h-1.5 q-1.1 0 -1.1 1.15 q0 1.15 1.1 1.15 h1.5" fill="none" stroke="#111" stroke-width="0.8" />
<path d="M435.4 326.65 h-1.5 q-1.1 0 -1.1 1.15 q0 1.15 1.1 1.15 h1.5" fill="none" stroke="#111" stroke-width="0.8" />
<circle cx="384.4" cy="270.3" r="2.5" fill="none" stroke="#111" stroke-width="0.7"/>
<circle cx="384.4" cy="270.3" r="1.3" fill="none" stroke="#111" stroke-width="0.5"/>
<circle cx="384.4" cy="325.3" r="2.5" fill="none" stroke="#111" stroke-width="0.7"/>
<circle cx="384.4" cy="325.3" r="1.3" fill="none" stroke="#111" stroke-width="0.5"/>
<line x1="407.5" y1="262" x2="407.5" y2="334" stroke="#333" stroke-width="1" stroke-dasharray="6 1.5 1 1.5"/>
<line x1="378" y1="298.5" x2="438" y2="298.5" stroke="#222" stroke-width="1" stroke-dasharray="6 1.5 1 1.5"/>
<line x1="402.3" y1="256.5" x2="413.3" y2="256.5" stroke="#111" stroke-width="1"/>
<polygon points="402.3,256.5 404.8,255.75 404.8,257.25" fill="#111"/>
<polygon points="413.3,256.5 410.8,257.25 410.8,255.75" fill="#111"/>
<rect x="402.72" y="254.35" width="10.16" height="3.87" fill="#fff"/>
<text x="407.8" y="258.05" font-size="4.3" text-anchor="middle" font-weight="bold" fill="#111" font-family="Liberation Sans" textLength="8.96" lengthAdjust="spacingAndGlyphs"  stroke="#111" stroke-width="0.2">6.00</text>
<line x1="402.5" y1="255.5" x2="402.5" y2="264" stroke="#111" stroke-width="1"/>
<line x1="413.5" y1="255.5" x2="413.5" y2="264" stroke="#111" stroke-width="1"/>
<line x1="397" y1="256.5" x2="402.3" y2="256.5" stroke="#111" stroke-width="1"/>
<line x1="413.3" y1="256.5" x2="418" y2="256.5" stroke="#111" stroke-width="1"/>
<line x1="375.5" y1="277" x2="375.5" y2="320" stroke="#111" stroke-width="1"/>
<polygon points="375.5,277 376.25,279.5 374.75,279.5" fill="#111"/>
<polygon points="375.5,320 374.75,317.5 376.25,317.5" fill="#111"/>
<rect x="373.35" y="291.36" width="3.87" height="11.28" fill="#fff"/>
<text x="377.05" y="297" font-size="4.3" text-anchor="middle" font-weight="bold" fill="#111" font-family="Liberation Sans" textLength="10.08" lengthAdjust="spacingAndGlyphs" transform="rotate(-90 377.05 297)"  stroke="#111" stroke-width="0.2">24.50</text>
<line x1="375" y1="277.5" x2="381" y2="277.5" stroke="#111" stroke-width="1"/>
<line x1="447.5" y1="268.3" x2="447.5" y2="326.5" stroke="#111" stroke-width="1"/>
<polygon points="447.5,268.3 448.25,270.8 446.75,270.8" fill="#111"/>
<polygon points="447.5,326.5 446.75,324 448.25,324" fill="#111"/>
<rect x="445.35" y="292.36" width="3.87" height="11.28" fill="#fff"/>
<text x="449.05" y="298" font-size="4.3" text-anchor="middle" font-weight="bold" fill="#111" font-family="Liberation Sans" textLength="10.08" lengthAdjust="spacingAndGlyphs" transform="rotate(-90 449.05 298)"  stroke="#111" stroke-width="0.2">32.00</text>
<line x1="436" y1="268.5" x2="448.3" y2="268.5" stroke="#111" stroke-width="1"/>
<line x1="436" y1="326.5" x2="448.3" y2="326.5" stroke="#111" stroke-width="1"/>
<line x1="439.5" y1="278" x2="439.5" y2="288" stroke="#666" stroke-width="1"/>
<text x="440.6" y="300" font-size="3.2" text-anchor="middle" font-weight="bold" fill="#111" font-family="Liberation Sans" textLength="7.5" lengthAdjust="spacingAndGlyphs" transform="rotate(-90 440.6 300)"  stroke="#111" stroke-width="0.2">2.00</text>
<line x1="436" y1="289.5" x2="440" y2="289.5" stroke="#111" stroke-width="1"/>
<line x1="436" y1="292.5" x2="440" y2="292.5" stroke="#111" stroke-width="1"/>
<text x="441.5" y="319" font-size="3.2" text-anchor="middle" font-weight="bold" fill="#111" font-family="Liberation Sans" textLength="7.5" lengthAdjust="spacingAndGlyphs" transform="rotate(-90 441.5 319)"  stroke="#111" stroke-width="0.2">4.00</text>
<line x1="436" y1="323.5" x2="441" y2="323.5" stroke="#111" stroke-width="1"/>
<line x1="440.5" y1="320" x2="440.5" y2="333" stroke="#111" stroke-width="1"/>
<text x="419.5" y="336.3" font-size="3" text-anchor="end" font-weight="bold" fill="#111" font-family="Liberation Sans" textLength="7" lengthAdjust="spacingAndGlyphs"  stroke="#111" stroke-width="0.2">1.20</text>
<line x1="420" y1="335.5" x2="431" y2="335.5" stroke="#111" stroke-width="1"/>
<line x1="433.5" y1="335.5" x2="437" y2="335.5" stroke="#111" stroke-width="1"/>
<line x1="431.5" y1="331" x2="431.5" y2="337" stroke="#111" stroke-width="1"/>
<line x1="435.5" y1="331" x2="435.5" y2="337" stroke="#111" stroke-width="1"/>
<line x1="384" y1="329.5" x2="391" y2="336.5" stroke="#111" stroke-width="0.5"/>
<text x="391.5" y="338.5" font-size="2.6" text-anchor="start" font-weight="bold" fill="#111" font-family="Liberation Sans" textLength="7" lengthAdjust="spacingAndGlyphs" transform="rotate(35 391.5 338.5)"  stroke="#111" stroke-width="0.2">Ø0.60</text>
<line x1="467.5" y1="261.3" x2="467.5" y2="330.2" stroke="#111" stroke-width="1"/>
<line x1="475.5" y1="256" x2="475.5" y2="330.2" stroke="#555" stroke-width="1"/>
<line x1="467.3" y1="261.5" x2="475.2" y2="261.5" stroke="#111" stroke-width="1"/>
<line x1="467.3" y1="330.5" x2="475.2" y2="330.5" stroke="#111" stroke-width="1"/>
<line x1="469.5" y1="265.6" x2="469.5" y2="330.2" stroke="#111" stroke-width="1"/>
<line x1="467.3" y1="265.5" x2="475.2" y2="265.5" stroke="#555" stroke-width="1"/>
<text x="465" y="257.4" font-size="3.3" text-anchor="end" font-weight="bold" fill="#111" font-family="Liberation Sans" textLength="8" lengthAdjust="spacingAndGlyphs"  stroke="#111" stroke-width="0.2">3.75</text>
<line x1="465.3" y1="256.5" x2="467.5" y2="256.5" stroke="#111" stroke-width="1"/>
<line x1="467.5" y1="256.5" x2="475" y2="256.5" stroke="#111" stroke-width="1"/>
<line x1="467.5" y1="255" x2="467.5" y2="261.3" stroke="#111" stroke-width="1"/>
<line x1="475.5" y1="255" x2="475.5" y2="261.3" stroke="#111" stroke-width="1"/>
<text x="464.5" y="262.8" font-size="3.3" text-anchor="end" font-weight="bold" fill="#111" font-family="Liberation Sans" textLength="8" lengthAdjust="spacingAndGlyphs"  stroke="#111" stroke-width="0.2">1.20</text>
<line x1="465" y1="261.5" x2="467.5" y2="261.5" stroke="#111" stroke-width="1"/>
<rect x="506.7" y="266.2" width="54.6" height="63.8" fill="none" stroke="#111" stroke-width="1"/>
<line x1="508.5" y1="266.2" x2="508.5" y2="330" stroke="#222" stroke-width="1"/>
<line x1="559.5" y1="266.2" x2="559.5" y2="330" stroke="#222" stroke-width="1"/>
<circle cx="513.2" cy="272" r="1.3" fill="#111" stroke="#111" stroke-width="0.3"/>
<line x1="534.5" y1="262" x2="534.5" y2="333" stroke="#333" stroke-width="1" stroke-dasharray="6 1.5 1 1.5"/>
<line x1="504" y1="298.5" x2="563" y2="298.5" stroke="#222" stroke-width="1" stroke-dasharray="6 1.5 1 1.5"/>
<line x1="506.7" y1="256.5" x2="561.3" y2="256.5" stroke="#111" stroke-width="1"/>
<polygon points="506.7,256.5 509.2,255.75 509.2,257.25" fill="#111"/>
<polygon points="561.3,256.5 558.8,257.25 558.8,255.75" fill="#111"/>
<rect x="527.8" y="254.35" width="12.4" height="3.87" fill="#fff"/>
<text x="534" y="258.05" font-size="4.3" text-anchor="middle" font-weight="bold" fill="#111" font-family="Liberation Sans" textLength="11.2" lengthAdjust="spacingAndGlyphs"  stroke="#111" stroke-width="0.2">30.00</text>
<line x1="508" y1="261.5" x2="560" y2="261.5" stroke="#111" stroke-width="1"/>
<polygon points="508,261.5 510.5,260.75 510.5,262.25" fill="#111"/>
<polygon points="560,261.5 557.5,262.25 557.5,260.75" fill="#111"/>
<rect x="527.8" y="259.35" width="12.4" height="3.87" fill="#fff"/>
<text x="534" y="263.05" font-size="4.3" text-anchor="middle" font-weight="bold" fill="#111" font-family="Liberation Sans" textLength="11.2" lengthAdjust="spacingAndGlyphs"  stroke="#111" stroke-width="0.2">28.30</text>
<line x1="506.5" y1="255" x2="506.5" y2="266.2" stroke="#111" stroke-width="1"/>
<line x1="561.5" y1="255" x2="561.5" y2="266.2" stroke="#111" stroke-width="1"/>
<line x1="561.3" y1="266.5" x2="575" y2="266.5" stroke="#111" stroke-width="1"/>
<line x1="561.3" y1="330.5" x2="575" y2="330.5" stroke="#111" stroke-width="1"/>
<line x1="567.5" y1="266.2" x2="567.5" y2="330" stroke="#111" stroke-width="1"/>
<polygon points="567.5,266.2 568.25,268.7 566.75,268.7" fill="#111"/>
<polygon points="567.5,330 566.75,327.5 568.25,327.5" fill="#111"/>
<rect x="565.35" y="292.36" width="3.87" height="11.28" fill="#fff"/>
<text x="569.05" y="298" font-size="4.3" text-anchor="middle" font-weight="bold" fill="#111" font-family="Liberation Sans" textLength="10.08" lengthAdjust="spacingAndGlyphs" transform="rotate(-90 569.05 298)"  stroke="#111" stroke-width="0.2">24.75</text>
<line x1="574.5" y1="266.2" x2="574.5" y2="330" stroke="#111" stroke-width="1"/>
<polygon points="574.5,266.2 575.25,268.7 573.75,268.7" fill="#111"/>
<polygon points="574.5,330 573.75,327.5 575.25,327.5" fill="#111"/>
<rect x="572.35" y="292.36" width="3.87" height="11.28" fill="#fff"/>
<text x="576.05" y="298" font-size="4.3" text-anchor="middle" font-weight="bold" fill="#111" font-family="Liberation Sans" textLength="10.08" lengthAdjust="spacingAndGlyphs" transform="rotate(-90 576.05 298)"  stroke="#111" stroke-width="0.2">25.90</text>
<text x="444.2" y="341.3" font-size="7.7" text-anchor="start" font-weight="normal" fill="#000" font-family="Liberation Sans" textLength="18.2" lengthAdjust="spacingAndGlyphs"  stroke="#000" stroke-width="0.15">APPL</text>
<text x="467" y="341.3" font-size="7.7" text-anchor="start" font-weight="normal" fill="#000" font-family="Liberation Sans" textLength="24" lengthAdjust="spacingAndGlyphs"  stroke="#000" stroke-width="0.15">ICABLE</text>
<text x="496.3" y="341.3" font-size="7.7" text-anchor="start" font-weight="normal" fill="#000" font-family="Liberation Sans" textLength="6.8" lengthAdjust="spacingAndGlyphs"  stroke="#000" stroke-width="0.15">IC</text>
<line x1="446" y1="343.5" x2="498.7" y2="343.5" stroke="#111" stroke-width="1"/>
<path d="M167.92 258.19 A78 78 0 0 0 84.56 333.01" fill="none" stroke="#111" stroke-width="0.6" />
<text x="109.5" y="280.5" font-size="2.6" text-anchor="middle" font-weight="bold" fill="#111" font-family="Liberation Sans" textLength="5" lengthAdjust="spacingAndGlyphs" transform="rotate(-50 109.5 280.5)"  stroke="#111" stroke-width="0.2">45°</text>
<circle cx="79.3" cy="255.2" r="2.3" fill="none" stroke="#111" stroke-width="0.5"/>
<text x="79.3" y="256.4" font-size="2.8" text-anchor="middle" font-weight="bold" fill="#111" font-family="Liberation Sans"  stroke="#111" stroke-width="0.2">5</text>
<line x1="81.6" y1="255.5" x2="168.5" y2="255.5" stroke="#111" stroke-width="1"/>
<line x1="171.6" y1="230" x2="165.1" y2="313" stroke="#000" stroke-width="1.15" stroke-dasharray="1.6 0.7"/>
<line x1="174.7" y1="236" x2="168.6" y2="313" stroke="#000" stroke-width="1.15" stroke-dasharray="1.6 0.7"/>
<line x1="182.6" y1="226" x2="175.1" y2="313" stroke="#000" stroke-width="1.15" stroke-dasharray="1.6 0.7"/>
<path d="M170.8 226.5 L174.5 221.2 L181 221.2 L184 225.5" fill="none" stroke="#111" stroke-width="0.7" />
<line x1="171" y1="226.5" x2="172.2" y2="233" stroke="#111" stroke-width="0.7"/>
<path d="M171.8 225.0 L160.2 223.0 Q158.3 223.2 158.6 225.6 L159.9 230.6 L161.4 230.4 L161.3 227.6 L171.5 228.6" fill="none" stroke="#111" stroke-width="0.8" />
<circle cx="174.8" cy="229.9" r="2.4" fill="none" stroke="#111" stroke-width="0.8"/>
<circle cx="174.8" cy="229.9" r="1.1" fill="none" stroke="#111" stroke-width="0.5"/>
<rect x="173" y="233.2" width="3.6" height="3.6" fill="none" stroke="#111" stroke-width="0.6"/>
<path d="M172.6 243.8 L179.2 244.4 L179.0 246.2 L172.4 245.6 Z M172.1 248.5 L178.7 249.1 L178.5 250.9 L171.9 250.3 Z" fill="none" stroke="#111" stroke-width="0.6" />
<path d="M166.2 303.0 L172.8 303.6 L172.6 305.4 L166 304.8 Z M165.7 307.6 L172.3 308.2 L172.1 310 L165.5 309.4 Z" fill="none" stroke="#111" stroke-width="0.6" />
<rect x="164.5" y="311.5" width="5.5" height="6.5" fill="none" stroke="#111" stroke-width="0.6"/>
<rect x="165.3" y="318" width="4" height="4" fill="none" stroke="#111" stroke-width="0.5"/>
<line x1="179.5" y1="220.5" x2="198" y2="220.5" stroke="#111" stroke-width="1"/>
<line x1="197.5" y1="220.6" x2="197.5" y2="352.7" stroke="#111" stroke-width="1"/>
<polygon points="197.5,220.6 198.25,223.1 196.75,223.1" fill="#111"/>
<polygon points="197.5,352.7 196.75,350.2 198.25,350.2" fill="#111"/>
<rect x="195.35" y="286.02" width="3.87" height="12.96" fill="#fff"/>
<text x="199.05" y="292.5" font-size="4.3" text-anchor="middle" font-weight="bold" fill="#111" font-family="Liberation Sans" textLength="11.76" lengthAdjust="spacingAndGlyphs" transform="rotate(-90 199.05 292.5)"  stroke="#111" stroke-width="0.2">75.30</text>
<line x1="100.6" y1="309.5" x2="137.4" y2="309.5" stroke="#111" stroke-width="1"/>
<polygon points="100.6,309.5 103.1,308.75 103.1,310.25" fill="#111"/>
<polygon points="137.4,309.5 134.9,310.25 134.9,308.75" fill="#111"/>
<rect x="113.08" y="307.35" width="11.84" height="3.87" fill="#fff"/>
<text x="119" y="311.05" font-size="4.3" text-anchor="middle" font-weight="bold" fill="#111" font-family="Liberation Sans" textLength="10.64" lengthAdjust="spacingAndGlyphs"  stroke="#111" stroke-width="0.2">26.00</text>
<line x1="103" y1="315.5" x2="135" y2="315.5" stroke="#111" stroke-width="1"/>
<polygon points="103,315.5 105.5,314.75 105.5,316.25" fill="#111"/>
<polygon points="135,315.5 132.5,316.25 132.5,314.75" fill="#111"/>
<rect x="113.08" y="313.35" width="11.84" height="3.87" fill="#fff"/>
<text x="119" y="317.05" font-size="4.3" text-anchor="middle" font-weight="bold" fill="#111" font-family="Liberation Sans" textLength="10.64" lengthAdjust="spacingAndGlyphs"  stroke="#111" stroke-width="0.2">18.40</text>
<line x1="100.5" y1="308.5" x2="100.5" y2="324" stroke="#111" stroke-width="1"/>
<line x1="137.5" y1="308.5" x2="137.5" y2="324" stroke="#111" stroke-width="1"/>
<line x1="103.5" y1="314.5" x2="103.5" y2="324" stroke="#111" stroke-width="1"/>
<line x1="135.5" y1="314.5" x2="135.5" y2="324" stroke="#111" stroke-width="1"/>
<rect x="64.3" y="324.4" width="110.7" height="28.3" fill="none" stroke="#111" stroke-width="0.8"/>
<line x1="64.3" y1="324.5" x2="175" y2="324.5" stroke="#111" stroke-width="1.5"/>
<rect x="86" y="331.6" width="75" height="2.6" fill="none" stroke="#111" stroke-width="1" rx="1.2"/>
<circle cx="88.3" cy="332.9" r="1.4" fill="#fff" stroke="#111" stroke-width="0.6"/>
<line x1="64.3" y1="334.5" x2="84" y2="334.5" stroke="#444" stroke-width="1"/>
<line x1="64.3" y1="336.5" x2="175" y2="336.5" stroke="#111" stroke-width="1.5"/>
<line x1="64.3" y1="338.5" x2="175" y2="338.5" stroke="#111" stroke-width="1"/>
<line x1="64.3" y1="342.5" x2="175" y2="342.5" stroke="#777" stroke-width="1"/>
<line x1="64.3" y1="344.5" x2="175" y2="344.5" stroke="#111" stroke-width="1"/>
<line x1="64.3" y1="347.5" x2="175" y2="347.5" stroke="#555" stroke-width="1"/>
<rect x="64.3" y="349.8" width="110.7" height="2.9" fill="#111"/>
<line x1="72.5" y1="324.4" x2="72.5" y2="336.2" stroke="#555" stroke-width="1"/>
<line x1="75.5" y1="324.4" x2="75.5" y2="336.2" stroke="#555" stroke-width="1"/>
<line x1="77.5" y1="324.4" x2="77.5" y2="336.2" stroke="#555" stroke-width="1"/>
<line x1="150.5" y1="324.4" x2="150.5" y2="336.2" stroke="#555" stroke-width="1"/>
<line x1="153.5" y1="324.4" x2="153.5" y2="336.2" stroke="#555" stroke-width="1"/>
<line x1="71.5" y1="338.6" x2="71.5" y2="344.6" stroke="#555" stroke-width="1"/>
<line x1="74.5" y1="338.6" x2="74.5" y2="344.6" stroke="#555" stroke-width="1"/>
<line x1="76.5" y1="338.6" x2="76.5" y2="344.6" stroke="#555" stroke-width="1"/>
<line x1="79.5" y1="338.6" x2="79.5" y2="344.6" stroke="#555" stroke-width="1"/>
<line x1="90.5" y1="324.4" x2="90.5" y2="331.5" stroke="#444" stroke-width="1"/>
<line x1="157.5" y1="324.4" x2="157.5" y2="331.5" stroke="#444" stroke-width="1"/>
<rect x="78.5" y="345" width="3.2" height="3.2" fill="none" stroke="#111" stroke-width="0.6"/>
<rect x="156.5" y="345" width="3.2" height="3.2" fill="none" stroke="#111" stroke-width="0.6"/>
<text x="80" y="356.5" font-size="2.2" text-anchor="middle" font-weight="bold" fill="#111" font-family="Liberation Sans" textLength="4.5" lengthAdjust="spacingAndGlyphs"  stroke="#111" stroke-width="0.2">1.00</text>
<circle cx="119" cy="345" r="13" fill="#fff" stroke="#111" stroke-width="0.7"/>
<rect x="107" y="338.6" width="24" height="12" fill="#111"/>
<line x1="108.5" y1="340" x2="108.5" y2="349.5" stroke="#ddd" stroke-width="1"/>
<line x1="110.5" y1="340" x2="110.5" y2="349.5" stroke="#ddd" stroke-width="1"/>
<line x1="112.5" y1="340" x2="112.5" y2="349.5" stroke="#ddd" stroke-width="1"/>
<line x1="114.5" y1="340" x2="114.5" y2="349.5" stroke="#ddd" stroke-width="1"/>
<line x1="116.5" y1="340" x2="116.5" y2="349.5" stroke="#ddd" stroke-width="1"/>
<line x1="118.5" y1="340" x2="118.5" y2="349.5" stroke="#ddd" stroke-width="1"/>
<line x1="120.5" y1="340" x2="120.5" y2="349.5" stroke="#ddd" stroke-width="1"/>
<line x1="121.5" y1="340" x2="121.5" y2="349.5" stroke="#ddd" stroke-width="1"/>
<line x1="123.5" y1="340" x2="123.5" y2="349.5" stroke="#ddd" stroke-width="1"/>
<line x1="125.5" y1="340" x2="125.5" y2="349.5" stroke="#ddd" stroke-width="1"/>
<line x1="127.5" y1="340" x2="127.5" y2="349.5" stroke="#ddd" stroke-width="1"/>
<line x1="129.5" y1="340" x2="129.5" y2="349.5" stroke="#ddd" stroke-width="1"/>
<path d="M110 337.5 L113.5 333.5 M114 337.5 L117.5 333 M118 337.5 L121.5 333 M122 337.5 L125.5 333.5 M126 337.5 L128.5 334.5" fill="none" stroke="#111" stroke-width="0.6" />
<line x1="106.5" y1="337.5" x2="131.5" y2="337.5" stroke="#111" stroke-width="1"/>
<rect x="162.3" y="319.6" width="12.7" height="16.2" fill="none" stroke="#111" stroke-width="0.7"/>
<circle cx="170" cy="331" r="2.8" fill="none" stroke="#111" stroke-width="0.9"/>
<circle cx="170" cy="331" r="1.5" fill="none" stroke="#111" stroke-width="0.5"/>
<rect x="163.5" y="313" width="5" height="6.6" fill="none" stroke="#111" stroke-width="0.6"/>
<circle cx="67.8" cy="328.2" r="2.6" fill="none" stroke="#111" stroke-width="0.9"/>
<circle cx="67.8" cy="328.2" r="1.3" fill="none" stroke="#111" stroke-width="0.5"/>
<rect x="66.2" y="338.4" width="3.4" height="3.4" fill="none" stroke="#111" stroke-width="0.8"/>
<circle cx="57.4" cy="315.7" r="2.2" fill="none" stroke="#111" stroke-width="0.5"/>
<text x="57.4" y="316.8" font-size="2.8" text-anchor="middle" font-weight="bold" fill="#111" font-family="Liberation Sans"  stroke="#111" stroke-width="0.2">6</text>
<circle cx="57.4" cy="333.4" r="2.2" fill="none" stroke="#111" stroke-width="0.5"/>
<text x="57.4" y="334.5" font-size="2.8" text-anchor="middle" font-weight="bold" fill="#111" font-family="Liberation Sans"  stroke="#111" stroke-width="0.2">7</text>
<circle cx="57.4" cy="340" r="2.2" fill="none" stroke="#111" stroke-width="0.5"/>
<text x="57.4" y="341.1" font-size="2.8" text-anchor="middle" font-weight="bold" fill="#111" font-family="Liberation Sans"  stroke="#111" stroke-width="0.2">8</text>
<line x1="59.6" y1="315.5" x2="70" y2="315.5" stroke="#111" stroke-width="1"/>
<line x1="70.5" y1="315.7" x2="70.5" y2="324.5" stroke="#111" stroke-width="1"/>
<line x1="59.6" y1="333.5" x2="66" y2="333.5" stroke="#111" stroke-width="1"/>
<line x1="59.6" y1="340.5" x2="66" y2="340.5" stroke="#111" stroke-width="1"/>
<circle cx="57.4" cy="364.3" r="2.2" fill="none" stroke="#111" stroke-width="0.5"/>
<text x="57.4" y="365.4" font-size="2.8" text-anchor="middle" font-weight="bold" fill="#111" font-family="Liberation Sans"  stroke="#111" stroke-width="0.2">3</text>
<line x1="59.6" y1="364.5" x2="84" y2="364.5" stroke="#111" stroke-width="1"/>
<line x1="84" y1="364.3" x2="100" y2="350.5" stroke="#111" stroke-width="0.5"/>
<circle cx="57.4" cy="370.6" r="2.2" fill="none" stroke="#111" stroke-width="0.5"/>
<text x="57.4" y="371.7" font-size="2.8" text-anchor="middle" font-weight="bold" fill="#111" font-family="Liberation Sans"  stroke="#111" stroke-width="0.2">2</text>
<line x1="59.6" y1="370.5" x2="87.78" y2="370.5" stroke="#111" stroke-width="1"/>
<line x1="87.78" y1="370.6" x2="104" y2="347.98" stroke="#111" stroke-width="0.5"/>
<circle cx="57.4" cy="376.8" r="2.2" fill="none" stroke="#111" stroke-width="0.5"/>
<text x="57.4" y="377.9" font-size="2.8" text-anchor="middle" font-weight="bold" fill="#111" font-family="Liberation Sans"  stroke="#111" stroke-width="0.2">1</text>
<line x1="59.6" y1="376.5" x2="91.5" y2="376.5" stroke="#111" stroke-width="1"/>
<line x1="91.5" y1="376.8" x2="110" y2="345.5" stroke="#111" stroke-width="0.5"/>
<line x1="84" y1="364.3" x2="100" y2="351.5" stroke="#111" stroke-width="0.5"/>
<line x1="45.5" y1="324.5" x2="45.5" y2="352.5" stroke="#111" stroke-width="1"/>
<polygon points="45.5,324.5 46.25,327 44.75,327" fill="#111"/>
<polygon points="45.5,352.5 44.75,350 46.25,350" fill="#111"/>
<rect x="43.35" y="331.58" width="3.87" height="11.84" fill="#fff"/>
<text x="47.05" y="337.5" font-size="4.3" text-anchor="middle" font-weight="bold" fill="#111" font-family="Liberation Sans" textLength="10.64" lengthAdjust="spacingAndGlyphs" transform="rotate(-90 47.05 337.5)"  stroke="#111" stroke-width="0.2">15.80</text>
<line x1="51.5" y1="326" x2="51.5" y2="350.5" stroke="#111" stroke-width="1"/>
<polygon points="51.5,326 52.25,328.5 50.75,328.5" fill="#111"/>
<polygon points="51.5,350.5 50.75,348 52.25,348" fill="#111"/>
<rect x="49.35" y="331.58" width="3.87" height="11.84" fill="#fff"/>
<text x="53.05" y="337.5" font-size="4.3" text-anchor="middle" font-weight="bold" fill="#111" font-family="Liberation Sans" textLength="10.64" lengthAdjust="spacingAndGlyphs" transform="rotate(-90 53.05 337.5)"  stroke="#111" stroke-width="0.2">14.20</text>
<line x1="44.5" y1="324.5" x2="64.3" y2="324.5" stroke="#111" stroke-width="1"/>
<line x1="44.5" y1="352.5" x2="64.3" y2="352.5" stroke="#111" stroke-width="1"/>
<line x1="50.5" y1="326.5" x2="55" y2="326.5" stroke="#111" stroke-width="1"/>
<line x1="50.5" y1="350.5" x2="64.3" y2="350.5" stroke="#111" stroke-width="1"/>
<line x1="174.8" y1="335.5" x2="189.5" y2="335.5" stroke="#111" stroke-width="1"/>
<line x1="174.8" y1="352.5" x2="198" y2="352.5" stroke="#111" stroke-width="1"/>
<line x1="188.5" y1="335.5" x2="188.5" y2="352.7" stroke="#111" stroke-width="1"/>
<polygon points="188.5,335.5 189.25,338 187.75,338" fill="#111"/>
<polygon points="188.5,352.7 187.75,350.2 189.25,350.2" fill="#111"/>
<rect x="186.35" y="324.92" width="3.87" height="10.16" fill="#fff"/>
<text x="190.05" y="330" font-size="4.3" text-anchor="middle" font-weight="bold" fill="#111" font-family="Liberation Sans" textLength="8.96" lengthAdjust="spacingAndGlyphs" transform="rotate(-90 190.05 330)"  stroke="#111" stroke-width="0.2">9.70</text>
<line x1="64.3" y1="367.5" x2="174.8" y2="367.5" stroke="#111" stroke-width="1"/>
<polygon points="64.3,367.5 66.8,366.75 66.8,368.25" fill="#111"/>
<polygon points="174.8,367.5 172.3,368.25 172.3,366.75" fill="#111"/>
<rect x="115.08" y="365.35" width="11.84" height="3.87" fill="#fff"/>
<text x="121" y="369.05" font-size="4.3" text-anchor="middle" font-weight="bold" fill="#111" font-family="Liberation Sans" textLength="10.64" lengthAdjust="spacingAndGlyphs"  stroke="#111" stroke-width="0.2">64.00</text>
<line x1="64.5" y1="353" x2="64.5" y2="368.5" stroke="#111" stroke-width="1"/>
<line x1="174.5" y1="353" x2="174.5" y2="368.5" stroke="#111" stroke-width="1"/>
<text x="128" y="361" font-size="3.2" text-anchor="start" font-weight="bold" fill="#111" font-family="Liberation Sans" textLength="17" lengthAdjust="spacingAndGlyphs"  stroke="#111" stroke-width="0.2">2-Ø2.00</text>
<line x1="145.5" y1="359.5" x2="150" y2="359.5" stroke="#111" stroke-width="1"/>
<line x1="150.5" y1="353" x2="150.5" y2="361" stroke="#111" stroke-width="1"/>
<text x="162" y="362.8" font-size="3" text-anchor="start" font-weight="bold" fill="#111" font-family="Liberation Sans" textLength="7.5" lengthAdjust="spacingAndGlyphs"  stroke="#111" stroke-width="0.2">6.00</text>
<line x1="161" y1="363.5" x2="170" y2="363.5" stroke="#111" stroke-width="1"/>
<path d="M152 353 L154 358 L161 358" fill="none" stroke="#111" stroke-width="0.5" />
<text x="98.8" y="381.7" font-size="5" text-anchor="start" font-weight="normal" fill="#000" font-family="Liberation Sans" textLength="42" lengthAdjust="spacingAndGlyphs"  stroke="#000" stroke-width="0.3">SOCKET  RAGHT  VIEW</text>
<line x1="98.8" y1="383.5" x2="140.8" y2="383.5" stroke="#111" stroke-width="1"/>
<polygon points="232,312 289,296 333,308 270,332" fill="#fff" stroke="#111" stroke-width="0.8"/>
<polyline points="232,312 232.5,319.5 271,340 333,316 333,308" fill="none" stroke="#111" stroke-width="0.8"/>
<line x1="270" y1="332" x2="271" y2="340" stroke="#111" stroke-width="0.7"/>
<line x1="233" y1="316" x2="270.5" y2="336.5" stroke="#444" stroke-width="0.5"/>
<line x1="270.5" y1="336.5" x2="333" y2="312.5" stroke="#444" stroke-width="0.5"/>
<polygon points="248,310 285,300.5 319,311 277,324.5" fill="none" stroke="#111" stroke-width="0.7"/>
<polygon points="251,310.3 285,302 315.5,311 277.5,322.3" fill="none" stroke="#333" stroke-width="0.5"/>
<polygon points="261,310.6 283,304.4 307,312 281,321" fill="#111" stroke="#111" stroke-width="0.5"/>
<polygon points="258.5,310.6 283,302.4 309.5,312 281,323" fill="none" stroke="#333" stroke-width="1.3" stroke-dasharray="0.7 0.7"/>
<circle cx="246" cy="316" r="1.2" fill="none" stroke="#111" stroke-width="0.5"/>
<circle cx="261.5" cy="327" r="1" fill="none" stroke="#111" stroke-width="0.5"/>
<circle cx="297" cy="315.5" r="1" fill="none" stroke="#111" stroke-width="0.5"/>
<rect x="241.5" y="318.5" width="2.5" height="3" fill="none" stroke="#111" stroke-width="0.6"/>
<rect x="272" y="331" width="2" height="2.5" fill="none" stroke="#111" stroke-width="0.5"/>
<line x1="233" y1="314.5" x2="268" y2="333" stroke="#333" stroke-width="0.5"/>
<path d="M243 314.5 Q246 312.5 249 314.5" fill="none" stroke="#111" stroke-width="0.5" />
<path d="M264 325.5 Q267 323.5 270 325.5" fill="none" stroke="#111" stroke-width="0.5" />
<line x1="268.5" y1="328" x2="268.5" y2="336" stroke="#111" stroke-width="1"/>
<circle cx="316.5" cy="312.5" r="0.9" fill="none" stroke="#111" stroke-width="0.5"/>
<polygon points="298.5,219.4 344.3,238 333.5,306.5 287.6,290" fill="#fff" stroke="#111" stroke-width="0.8"/>
<line x1="299.8" y1="221.6" x2="343.4" y2="239.8" stroke="#111" stroke-width="0.6"/>
<line x1="289.6" y1="289.5" x2="299.8" y2="221.6" stroke="#333" stroke-width="0.6"/>
<line x1="339.3" y1="241.6" x2="329.4" y2="303.4" stroke="#111" stroke-width="0.8"/>
<circle cx="342.3" cy="240.4" r="1.1" fill="#fff" stroke="#111" stroke-width="0.6"/>
<path d="M316.3 218.3 L331.2 224.3 Q332.7 225 332.7 226.6 L332.6 229.2 Q332.4 230.6 330.9 230 L317.4 224.6 Q316.1 224 316.1 222.6 Z" fill="#fff" stroke="#111" stroke-width="0.7" />
<line x1="317.5" y1="220.2" x2="331" y2="225.8" stroke="#333" stroke-width="0.5"/>
<polygon points="306.8,226 309,224.6 326,231.4 322.9,232.9" fill="#fff" stroke="#111" stroke-width="0.7"/>
<polygon points="306.8,226 322.9,232.9 322.9,236.3 306.8,229.5" fill="#fff" stroke="#111" stroke-width="0.7"/>
<polygon points="322.9,232.9 326,231.4 328.5,232.6 327.5,234.7 322.9,236.3" fill="#fff" stroke="#111" stroke-width="0.6"/>
<path d="M302.6 238.0 L330.3 251.4 Q332 252.3 331.8 254 L326.6 295 Q326.3 297 324.5 296.2 L296.2 282.6 Q294.6 281.8 294.8 280 L300.2 239.4 Q300.6 237.3 302.6 238.0 Z" fill="none" stroke="#111" stroke-width="0.9" />
<circle cx="302.5" cy="241.4" r="1.2" fill="#222" stroke="#111" stroke-width="0.4"/>
<circle cx="329.1" cy="254.6" r="1.2" fill="#222" stroke="#111" stroke-width="0.4"/>
<circle cx="323.7" cy="294.3" r="1.2" fill="#222" stroke="#111" stroke-width="0.4"/>
<circle cx="296.6" cy="282" r="1.2" fill="#222" stroke="#111" stroke-width="0.4"/>
<polygon points="303.5,249.3 313.79,253.81 311.65,267.68 301.29,263.54" fill="none" stroke="#111" stroke-width="0.9"/>
<polyline points="302.27,263.29 304.19,250.89 313.17,254.8" fill="none" stroke="#555" stroke-width="0.5"/>
<polygon points="301.01,265.36 311.38,269.45 309.23,283.31 298.8,279.6" fill="none" stroke="#111" stroke-width="0.9"/>
<polyline points="299.78,279.31 301.7,266.92 310.75,270.45" fill="none" stroke="#555" stroke-width="0.5"/>
<polygon points="315.11,254.39 325.4,258.9 323.33,272.34 312.97,268.21" fill="none" stroke="#111" stroke-width="0.9"/>
<polyline points="313.94,267.97 315.8,255.95 324.79,259.85" fill="none" stroke="#555" stroke-width="0.5"/>
<polygon points="312.7,269.97 323.07,274.06 321,287.5 310.57,283.79" fill="none" stroke="#111" stroke-width="0.9"/>
<polyline points="311.54,283.52 313.4,271.49 322.45,275.03" fill="none" stroke="#555" stroke-width="0.5"/>
<line x1="301.15" y1="264.45" x2="323.2" y2="273.2" stroke="#333" stroke-width="0.5"/>
<line x1="314.45" y1="254.1" x2="309.9" y2="283.55" stroke="#333" stroke-width="0.5"/>
<polygon points="287.8,289.8 287.8,296.5 297,300.5 297,293.5" fill="none" stroke="#111" stroke-width="0.5"/>
<polygon points="322,302.5 322,307.5 333.3,311.5 333.3,306.5" fill="none" stroke="#111" stroke-width="0.5"/>
<path d="M303 296 Q305 293 307 296 L307 300 L303 298 Z" fill="none" stroke="#111" stroke-width="0.5" />
<polygon points="308,294 314,296.5 314,302 308,299.5" fill="none" stroke="#111" stroke-width="0.5"/>
<text x="362.3" y="308.5" font-size="2.8" text-anchor="middle" font-weight="bold" fill="#111" font-family="Liberation Sans" textLength="6.5" lengthAdjust="spacingAndGlyphs" transform="rotate(-90 362.3 308.5)"  stroke="#111" stroke-width="0.2">4.50</text>
<text x="367" y="312.5" font-size="2.8" text-anchor="middle" font-weight="bold" fill="#111" font-family="Liberation Sans" textLength="6.5" lengthAdjust="spacingAndGlyphs" transform="rotate(-90 367 312.5)"  stroke="#111" stroke-width="0.2">1.50</text>
<line x1="361.5" y1="304" x2="361.5" y2="334" stroke="#111" stroke-width="1"/>
<line x1="365.5" y1="313" x2="365.5" y2="318.5" stroke="#111" stroke-width="1"/>
<line x1="360" y1="318.5" x2="381" y2="318.5" stroke="#111" stroke-width="1"/>
<line x1="360" y1="325.5" x2="381" y2="325.5" stroke="#111" stroke-width="1"/>
<path d="M219.4 376.64H223.89 M219.85 377.59H223.89 M220.75 378.45H223.89 M220.75 380.26H223.44 M221.64 377.59V380.6 M222.54 377.59V379.31 M221.64 378.45L219.4 380.6 M227.11 377.59H229.36 M224.87 378.45H227.11 M225.32 379.31H229.36 M225.32 376.3V380.6 M227.11 377.16V380.6 M228.01 377.16V380.6 M230.34 376.64H232.58 M230.79 377.59H234.38 M230.34 378.45H232.58 M230.79 379.31H234.83 M232.58 376.3V380.6 M236.26 377.59H240.3 M235.81 379.31H238.05 M237.16 380.26H240.3 M238.05 377.59V379.31 M239.85 376.3V379.31 M241.28 376.64H245.32 M243.52 377.59H245.32 M241.28 378.45H244.42 M241.73 379.31H245.77 M241.73 376.3V379.31 M242.63 377.16V379.31 M245.32 377.16V380.6 M243.52 378.45L241.28 380.6 M248.1 376.64H249.89 M247.2 377.59H250.79 M246.75 378.45H251.24 M248.99 379.31H251.24 M247.2 377.59V379.31 M248.99 377.16V379.31 M250.79 376.3V380.6 M248.99 378.45L246.75 380.6 M252.67 376.64H254.46 M252.67 379.31H256.26 M252.67 377.59V380.6 M254.46 376.3V379.31 M256.26 377.59V379.74 M258.14 376.64H262.18 M257.69 379.31H259.93 M258.14 380.26H261.73 M258.14 377.59V380.6 M259.93 377.16V380.6 M260.83 376.3V379.74 M259.93 378.45L257.69 380.6 M263.16 376.64H267.65 M263.61 377.59H267.2 M263.16 378.45H266.3 M263.61 379.31H267.65 M263.61 377.16V380.6 M267.2 377.59V379.31 M265.4 378.45L267.65 380.6 M268.63 376.64H273.12 M269.98 377.59H272.67 M269.98 380.26H273.12 M270.87 377.59V379.31 M276.34 377.59H278.14 M274.1 379.31H276.34 M275.45 377.16V379.31 M280.92 377.59H284.06 M280.02 378.45H284.06 M279.57 379.31H283.61 M279.57 380.26H284.06 M281.81 376.3V380.6 M282.71 376.3V380.6 M283.61 376.3V380.6 M281.81 378.45L284.06 380.6 M285.49 377.59H288.18 M285.04 378.45H289.08 M285.04 379.31H289.53 M285.49 380.26H288.18 M285.49 377.59V380.6 M289.08 377.16V379.31 M290.51 379.31H295 M290.96 380.26H295 M292.75 376.3V379.74 M294.55 377.16V380.6 M296.43 377.59H299.12 M295.98 378.45H300.47 M295.98 379.31H299.12 M296.43 380.26H300.47 M296.43 376.3V380.6 M299.12 377.16V379.74 M300.02 377.16V380.6 M298.22 378.45L300.47 380.6 M301.45 377.59H305.94 M301.45 379.31H305.94 M302.8 380.26H304.59 M301.9 377.59V380.6 M302.8 376.3V380.6 M304.59 377.59V380.6" fill="none" stroke="#444" stroke-width="0.4"/>
<path d="M219.85 384.45H223.44 M219.85 386.26H223.89 M219.85 382.3V386.6 M221.64 383.59V386.6 M221.64 384.45L219.4 386.6 M224.87 383.59H227.11 M224.87 384.45H229.36 M227.11 382.3V386.6 M228.91 382.3V385.74 M230.34 382.64H234.83 M231.69 386.26H233.48 M232.58 382.3V385.74 M233.48 383.59V385.31 M235.81 382.64H240.3 M235.81 383.59H240.3 M235.81 384.45H238.05 M238.95 383.59V386.6 M239.85 383.16V386.6 M238.05 384.45L235.81 386.6 M241.28 384.45H245.77 M242.63 385.31H245.32 M241.28 386.26H243.52 M242.63 382.3V385.74 M243.52 383.59V386.6 M245.32 382.3V386.6 M243.52 384.45L241.28 386.6 M246.75 382.64H251.24 M246.75 383.59H249.89 M247.2 384.45H251.24 M248.99 386.26H251.24 M247.2 382.3V386.6 M248.99 382.3V385.74 M249.89 383.59V385.74 M252.22 382.64H256.71 M252.22 384.45H255.36 M253.57 383.16V385.74 M257.69 382.64H261.73 M259.04 383.59H260.83 M259.93 384.45H262.18 M259.93 386.26H261.73 M259.04 383.16V386.6 M259.93 384.45L262.18 386.6 M265.4 382.64H267.65 M263.16 383.59H267.65 M265.4 384.45H267.65 M263.16 385.31H267.65 M265.4 383.16V386.6 M265.4 384.45L267.65 386.6 M268.63 382.64H270.87 M268.63 383.59H273.12 M270.87 386.26H272.67 M270.87 382.3V386.6 M270.87 384.45L273.12 386.6 M274.1 382.64H278.59 M274.1 383.59H276.34 M274.1 384.45H278.59 M274.55 386.26H278.59 M276.34 383.59V386.6 M278.14 382.3V386.6 M276.34 384.45L278.59 386.6 M279.57 383.59H282.71 M279.57 385.31H284.06 M281.81 382.3V386.6 M281.81 384.45L279.57 386.6 M285.04 384.45H287.28 M285.04 386.26H288.18 M289.08 383.59V385.74 M287.28 384.45L289.53 386.6 M290.96 383.59H295 M290.51 384.45H292.75 M290.51 385.31H292.75 M291.86 386.26H294.55 M290.96 383.59V386.6 M294.55 382.3V385.74 M297.33 382.64H300.02 M298.22 383.59H300.47 M296.43 384.45H300.02 M296.43 383.59V386.6 M303.69 384.45H305.94 M301.45 386.26H305.94 M301.9 382.3V385.74 M302.8 383.59V385.31" fill="none" stroke="#444" stroke-width="0.4"/>
<path d="M219.4 390.99H223.44 M219.4 391.85H222.54 M221.64 392.71H223.89 M219.85 393.66H222.54 M220.75 390.99V393.14 M221.64 390.99V392.71 M223.44 390.99V394 M227.11 390.04H229.36 M224.87 390.99H228.91 M224.87 391.85H228.91 M226.22 389.7V394 M227.11 391.85L229.36 394 M230.79 390.04H233.48 M231.69 390.99H233.48 M230.34 393.66H234.83 M230.79 389.7V392.71 M231.69 390.56V393.14 M232.58 390.99V394 M232.58 391.85L234.83 394 M235.81 390.04H238.95 M236.26 390.99H240.3 M235.81 392.71H238.95 M236.26 389.7V392.71 M238.95 389.7V392.71 M239.85 390.56V393.14 M238.05 391.85L240.3 394 M242.63 390.99H245.32 M242.63 391.85H245.77 M241.28 392.71H245.77 M243.52 393.66H245.77 M242.63 390.56V394 M244.42 390.99V392.71 M245.32 390.56V392.71 M246.75 390.04H251.24 M248.99 390.99H250.79 M246.75 391.85H249.89 M248.1 389.7V392.71 M248.99 389.7V394 M249.89 390.56V392.71 M252.67 390.04H256.71 M253.57 390.99H256.26 M252.22 391.85H256.71 M254.46 393.66H256.71 M253.57 389.7V392.71 M256.26 389.7V392.71 M259.04 390.04H262.18 M259.93 390.99H262.18 M259.04 390.56V394 M260.83 390.56V394 M265.4 390.04H267.65 M263.16 390.99H267.65 M263.16 391.85H267.65 M263.16 392.71H267.65 M266.3 390.56V394 M265.4 391.85L263.16 394 M269.08 390.04H272.67 M268.63 393.66H273.12 M269.08 389.7V393.14 M270.87 389.7V394 M274.1 390.04H278.14 M274.1 390.99H278.14 M274.55 390.99V394 M276.34 389.7V392.71 M276.34 391.85L274.1 394 M279.57 391.85H283.61 M280.92 392.71H284.06 M280.92 390.56V394 M281.81 390.56V394 M281.81 391.85L279.57 394 M285.04 390.04H289.08 M285.04 391.85H288.18 M285.49 389.7V394 M286.39 389.7V394 M290.51 390.99H295 M291.86 391.85H295 M290.51 392.71H294.55 M291.86 390.56V392.71 M294.55 389.7V394 M292.75 391.85L290.51 394 M298.22 390.99H300.47 M298.22 391.85H300.02 M295.98 392.71H298.22 M295.98 393.66H300.47 M299.12 390.56V392.71 M301.45 390.04H305.94 M301.9 392.71H303.69 M301.9 390.99V394 M303.69 391.85L305.94 394" fill="none" stroke="#444" stroke-width="0.4"/>
<path d="M220.75 397.04H223.44 M219.85 397.99H222.54 M219.4 398.85H221.64 M220.75 400.66H222.54 M222.54 396.7V401 M221.64 398.85L219.4 401 M227.11 397.04H229.36 M224.87 397.99H227.11 M225.32 398.85H228.01 M225.32 396.7V400.14 M226.22 397.99V401 M228.01 397.99V400.14 M227.11 398.85L229.36 401 M231.69 397.04H234.38 M230.79 398.85H234.38 M231.69 399.71H234.38 M231.69 396.7V400.14 M237.16 397.99H240.3 M237.16 398.85H240.3 M237.16 396.7V401 M239.85 396.7V399.71 M238.05 398.85L240.3 401 M241.28 397.99H243.52 M241.73 399.71H244.42 M241.28 400.66H245.32 M242.63 396.7V400.14 M244.42 397.99V401 M247.2 397.04H250.79 M248.99 399.71H251.24 M248.99 397.56V401 M254.46 397.04H256.71 M254.46 399.71H256.71 M256.26 396.7V400.14 M258.14 398.85H259.93 M258.14 399.71H262.18 M257.69 400.66H262.18 M258.14 397.99V401 M259.04 397.99V400.14 M264.51 397.04H267.65 M263.61 398.85H267.2 M263.61 399.71H266.3 M264.51 400.66H267.2 M265.4 397.99V400.14 M266.3 397.99V399.71 M267.2 397.99V401 M265.4 398.85L263.16 401 M269.98 397.99H272.67 M268.63 400.66H273.12 M269.98 397.56V401 M274.55 397.04H278.59 M274.1 397.99H276.34 M275.45 399.71H277.24 M276.34 400.66H278.59 M277.24 396.7V399.71 M278.14 396.7V400.14 M279.57 399.71H284.06 M280.02 400.66H283.61 M280.92 396.7V401 M281.81 396.7V399.71 M283.61 397.99V399.71 M281.81 398.85L284.06 401" fill="none" stroke="#444" stroke-width="0.4"/>
<line x1="313.5" y1="351.3" x2="313.5" y2="406.7" stroke="#555" stroke-width="1.5"/>
<line x1="324.5" y1="351.3" x2="324.5" y2="406.7" stroke="#555" stroke-width="1.5"/>
<line x1="354.5" y1="351.3" x2="354.5" y2="406.7" stroke="#555" stroke-width="1.5"/>
<line x1="383.5" y1="351.3" x2="383.5" y2="406.7" stroke="#555" stroke-width="1.5"/>
<line x1="393.5" y1="351.3" x2="393.5" y2="406.7" stroke="#555" stroke-width="1.5"/>
<line x1="313.7" y1="351.5" x2="393.3" y2="351.5" stroke="#555" stroke-width="1.5"/>
<line x1="313.7" y1="357.5" x2="393.3" y2="357.5" stroke="#555" stroke-width="1.5"/>
<line x1="313.7" y1="363.5" x2="393.3" y2="363.5" stroke="#555" stroke-width="1.5"/>
<line x1="313.7" y1="369.5" x2="393.3" y2="369.5" stroke="#555" stroke-width="1.5"/>
<line x1="313.7" y1="375.5" x2="393.3" y2="375.5" stroke="#555" stroke-width="1.5"/>
<line x1="313.7" y1="382.5" x2="393.3" y2="382.5" stroke="#555" stroke-width="1.5"/>
<line x1="313.7" y1="388.5" x2="393.3" y2="388.5" stroke="#555" stroke-width="1.5"/>
<line x1="313.7" y1="394.5" x2="393.3" y2="394.5" stroke="#555" stroke-width="1.5"/>
<line x1="313.7" y1="400.5" x2="393.3" y2="400.5" stroke="#555" stroke-width="1.5"/>
<line x1="313.7" y1="406.5" x2="393.3" y2="406.5" stroke="#555" stroke-width="1.5"/>
<circle cx="319" cy="354.4" r="2.3" fill="none" stroke="#111" stroke-width="1"/>
<text x="319" y="355.5" font-size="3.2" text-anchor="middle" font-weight="bold" fill="#111" font-family="Liberation Sans"  stroke="#111" stroke-width="0.2">8</text>
<path d="M335.5 353.24H336.85 M335.77 353.9H337.39 M335.5 354.5H336.85 M336.85 355.76H338.21 M337.39 353.9V355.4 M337.94 353V356 M336.85 354.5L335.5 356 M339.07 353.9H340.15 M340.15 355.1H341.24 M341.24 353V355.1 M342.91 353.24H344.81 M342.91 354.5H344.81 M342.1 355.76H344.81 M342.37 353.9V355.4 M343.99 353.9V355.4 M344.54 353V355.1" fill="none" stroke="#666" stroke-width="0.45"/>
<text x="368.8" y="355.9" font-size="4" text-anchor="middle" font-weight="bold" fill="#111" font-family="Liberation Sans" textLength="17" lengthAdjust="spacingAndGlyphs"  stroke="#111" stroke-width="0.2">COPPER</text>
<text x="388.3" y="356" font-size="4.2" text-anchor="middle" font-weight="bold" fill="#111" font-family="Liberation Sans" textLength="4.5" lengthAdjust="spacingAndGlyphs"  stroke="#111" stroke-width="0.2">36</text>
<circle cx="319" cy="360.4" r="2.3" fill="none" stroke="#111" stroke-width="1"/>
<text x="319" y="361.5" font-size="3.2" text-anchor="middle" font-weight="bold" fill="#111" font-family="Liberation Sans"  stroke="#111" stroke-width="0.2">7</text>
<path d="M335.77 359.24H338.21 M335.5 361.1H336.85 M335.77 361.76H338.21 M335.77 359.9V361.4 M336.31 359V362 M336.85 359.6V362 M336.85 360.5L338.21 362 M338.8 359.24H341.24 M339.61 360.5H341.51 M338.8 361.1H340.15 M338.8 361.76H341.24 M339.07 359.6V361.1 M340.15 359V362 M340.69 359V362" fill="none" stroke="#666" stroke-width="0.45"/>
<path d="M362.77 359.24H365.21 M362.5 361.1H364.39 M362.5 361.76H363.85 M364.39 359.9V361.4 M364.94 359.6V362 M363.85 360.5L365.21 362 M365.8 359.24H368.51 M366.07 360.5H367.15 M368.24 359.6V362 M369.1 359.24H371.81 M369.91 359.9H370.99 M369.91 361.1H371.81 M369.1 361.76H371.54 M369.91 359.9V362 M370.45 359V361.4 M370.99 359V362 M372.4 359.24H375.11 M372.4 359.9H375.11 M372.4 361.1H375.11 M373.21 361.76H374.84 M373.75 359.6V362 M374.29 359V362" fill="none" stroke="#666" stroke-width="0.45"/>
<text x="388.3" y="362" font-size="4.2" text-anchor="middle" font-weight="bold" fill="#111" font-family="Liberation Sans"  stroke="#111" stroke-width="0.2">1</text>
<circle cx="319" cy="366.25" r="2.3" fill="none" stroke="#111" stroke-width="1"/>
<text x="319" y="367.35" font-size="3.2" text-anchor="middle" font-weight="bold" fill="#111" font-family="Liberation Sans"  stroke="#111" stroke-width="0.2">6</text>
<path d="M335.5 365.09H338.21 M335.5 365.75H337.39 M335.77 366.35H338.21 M336.31 366.95H338.21 M336.85 365.45V367.85 M337.39 364.85V367.85 M337.94 365.75V367.25 M339.07 365.09H341.51 M338.8 366.35H341.51 M338.8 366.95H341.51 M338.8 367.61H341.51 M339.07 365.45V367.85 M339.61 365.45V367.85 M341.24 364.85V367.85 M340.15 366.35L338.8 367.85" fill="none" stroke="#666" stroke-width="0.45"/>
<path d="M363.31 366.95H364.94 M362.77 367.61H364.39 M363.31 364.85V367.85 M364.39 365.75V367.85 M364.94 364.85V367.25 M363.85 366.35L365.21 367.85 M365.8 365.09H368.24 M366.07 365.75H367.69 M366.61 366.95H368.51 M367.69 364.85V367.85 M369.1 365.09H371.81 M369.37 365.75H371.81 M369.1 366.95H371.81 M369.1 367.61H371.81 M369.91 364.85V367.25 M370.45 365.45V366.95 M370.99 364.85V366.95 M370.45 366.35L371.81 367.85 M372.4 365.09H375.11 M372.4 366.95H374.84 M373.75 364.85V367.85 M374.29 365.45V367.85 M373.75 366.35L375.11 367.85" fill="none" stroke="#666" stroke-width="0.45"/>
<text x="388.3" y="367.85" font-size="4.2" text-anchor="middle" font-weight="bold" fill="#111" font-family="Liberation Sans"  stroke="#111" stroke-width="0.2">1</text>
<circle cx="319" cy="372.5" r="2.3" fill="none" stroke="#111" stroke-width="1"/>
<text x="319" y="373.6" font-size="3.2" text-anchor="middle" font-weight="bold" fill="#111" font-family="Liberation Sans"  stroke="#111" stroke-width="0.2">5</text>
<path d="M335.5 371.34H338.21 M336.31 372H337.94 M335.77 372.6H337.39 M335.5 373.86H338.21 M336.85 371.1V373.2 M338.8 372H341.51 M339.07 372.6H340.69 M339.07 371.7V373.2 M342.1 371.34H344.54 M342.1 373.2H344.81 M343.45 371.1V374.1" fill="none" stroke="#666" stroke-width="0.45"/>
<path d="M362.5 372H364.39 M363.85 372.6H365.21 M363.85 371.7V373.2 M365.8 371.34H368.24 M366.07 373.2H368.51 M367.15 372V373.5 M368.24 371.1V373.2 M369.37 371.34H370.45 M369.1 372H370.45 M369.1 372.6H371.81 M369.1 373.2H371.54 M369.37 371.7V373.5 M372.4 371.34H375.11 M372.4 372H375.11 M372.67 372.6H373.75 M372.4 373.86H375.11 M372.67 372V374.1 M374.29 371.7V373.5" fill="none" stroke="#666" stroke-width="0.45"/>
<text x="388.3" y="374.1" font-size="4.2" text-anchor="middle" font-weight="bold" fill="#111" font-family="Liberation Sans"  stroke="#111" stroke-width="0.2">1</text>
<circle cx="319" cy="378.9" r="2.3" fill="none" stroke="#111" stroke-width="1"/>
<text x="319" y="380" font-size="3.2" text-anchor="middle" font-weight="bold" fill="#111" font-family="Liberation Sans"  stroke="#111" stroke-width="0.2">4</text>
<path d="M335.5 377.74H337.94 M336.31 378.4H337.94 M335.5 380.26H337.94 M335.77 377.5V379.9 M337.39 377.5V380.5 M337.94 378.1V380.5 M336.85 379L338.21 380.5 M338.8 377.74H341.51 M339.61 379H341.51 M338.8 379.6H341.24 M339.07 380.26H340.15 M340.15 377.5V380.5 M341.24 378.1V380.5 M340.15 379L338.8 380.5" fill="none" stroke="#666" stroke-width="0.45"/>
<text x="368.8" y="380.4" font-size="4" text-anchor="middle" font-weight="bold" fill="#111" font-family="Liberation Sans" textLength="17" lengthAdjust="spacingAndGlyphs" font-style="italic" stroke="#111" stroke-width="0.12">AL6061</text>
<text x="388.3" y="380.5" font-size="4.2" text-anchor="middle" font-weight="bold" fill="#111" font-family="Liberation Sans"  stroke="#111" stroke-width="0.2">1</text>
<circle cx="319" cy="385.15" r="2.3" fill="none" stroke="#111" stroke-width="1"/>
<text x="319" y="386.25" font-size="3.2" text-anchor="middle" font-weight="bold" fill="#111" font-family="Liberation Sans"  stroke="#111" stroke-width="0.2">3</text>
<path d="M336.85 383.99H337.94 M335.5 385.85H338.21 M335.5 386.51H337.94 M336.31 383.75V386.75 M339.61 385.25H341.24 M339.07 385.85H341.51 M338.8 386.51H340.15 M339.07 384.65V385.85 M340.15 385.25L338.8 386.75" fill="none" stroke="#666" stroke-width="0.45"/>
<text x="368.8" y="386.65" font-size="4" text-anchor="middle" font-weight="bold" fill="#111" font-family="Liberation Sans" textLength="17" lengthAdjust="spacingAndGlyphs" font-style="italic" stroke="#111" stroke-width="0.12">AL6061</text>
<text x="388.3" y="386.75" font-size="4.2" text-anchor="middle" font-weight="bold" fill="#111" font-family="Liberation Sans"  stroke="#111" stroke-width="0.2">1</text>
<circle cx="319" cy="391.25" r="2.3" fill="none" stroke="#111" stroke-width="1"/>
<text x="319" y="392.35" font-size="3.2" text-anchor="middle" font-weight="bold" fill="#111" font-family="Liberation Sans"  stroke="#111" stroke-width="0.2">2</text>
<path d="M335.77 390.09H338.21 M336.31 392.61H338.21 M336.31 389.85V391.95 M336.85 391.35L338.21 392.85 M338.8 390.09H341.51 M338.8 390.75H341.51 M338.8 391.95H341.51 M339.61 392.61H341.51 M339.07 390.45V392.25 M340.69 389.85V392.25 M342.37 390.09H344.81 M342.91 391.35H343.99 M342.37 389.85V392.25 M344.54 389.85V392.25" fill="none" stroke="#666" stroke-width="0.45"/>
<text x="368.8" y="392.75" font-size="4" text-anchor="middle" font-weight="bold" fill="#111" font-family="Liberation Sans" textLength="17" lengthAdjust="spacingAndGlyphs" font-style="italic" stroke="#111" stroke-width="0.12">AL6061</text>
<text x="388.3" y="392.85" font-size="4.2" text-anchor="middle" font-weight="bold" fill="#111" font-family="Liberation Sans"  stroke="#111" stroke-width="0.2">1</text>
<circle cx="319" cy="397.5" r="2.3" fill="none" stroke="#111" stroke-width="1"/>
<text x="319" y="398.6" font-size="3.2" text-anchor="middle" font-weight="bold" fill="#111" font-family="Liberation Sans"  stroke="#111" stroke-width="0.2">1</text>
<path d="M335.5 397H337.39 M335.5 397.6H338.21 M335.5 398.2H338.21 M335.5 398.86H336.85 M335.77 396.1V399.1 M337.94 396.7V398.2 M339.61 396.34H341.24 M338.8 397.6H340.15 M338.8 398.2H341.24 M338.8 398.86H341.24 M339.07 397V399.1 M340.69 397V399.1 M341.24 397V399.1 M340.15 397.6L338.8 399.1" fill="none" stroke="#666" stroke-width="0.45"/>
<path d="M363.85 397H365.21 M363.31 397.6H364.94 M362.5 398.86H365.21 M363.31 396.7V399.1 M364.94 396.1V398.2 M363.85 397.6L365.21 399.1 M365.8 396.34H368.51 M366.07 397.6H368.24 M366.07 398.2H367.15 M366.07 398.86H368.51 M366.61 396.1V398.2 M368.24 396.7V399.1 M367.15 397.6L365.8 399.1 M369.1 397H371.81 M369.1 397.6H371.81 M369.91 396.7V398.5 M372.4 397H375.11 M372.4 397.6H375.11 M373.21 398.2H374.29 M372.4 398.86H375.11 M373.75 396.1V399.1 M374.84 397V399.1 M373.75 397.6L375.11 399.1" fill="none" stroke="#666" stroke-width="0.45"/>
<text x="388.3" y="399.1" font-size="4.2" text-anchor="middle" font-weight="bold" fill="#111" font-family="Liberation Sans"  stroke="#111" stroke-width="0.2">1</text>
<path d="M316.19 402.59H317.37 M315.3 403.25H317.96 M315.6 403.85H316.78 M316.19 405.11H318.25 M316.78 402.35V404.45 M317.37 402.35V405.35 M317.96 402.35V405.35 M318.9 403.25H321.56 M319.2 404.45H320.97 M318.9 405.11H321.85 M319.2 402.35V405.35 M320.38 402.35V404.75 M321.56 402.35V404.45" fill="none" stroke="#666" stroke-width="0.45"/>
<path d="M335.5 402.59H338.45 M335.5 403.25H337.57 M335.8 403.25V405.35 M336.98 402.95V405.35 M337.57 402.95V405.35 M339.1 403.25H342.05 M339.4 405.11H342.05 M339.4 402.35V404.75 M339.99 402.95V405.35 M340.58 402.35V404.75 M340.58 403.85L339.1 405.35" fill="none" stroke="#666" stroke-width="0.45"/>
<path d="M365.5 403.25H368.45 M365.5 403.85H368.45 M365.8 404.45H368.45 M367.57 403.25V405.35 M368.16 403.25V404.45 M369.1 403.25H372.05 M369.4 403.85H371.17 M369.4 404.45H372.05 M369.1 405.11H371.17 M369.4 402.35V404.75 M370.58 402.95V405.35 M371.76 403.25V405.35 M370.58 403.85L369.1 405.35" fill="none" stroke="#666" stroke-width="0.45"/>
<path d="M384.5 403.85H387.45 M384.5 405.11H387.45 M384.8 402.35V405.35 M385.39 402.35V404.75 M385.98 402.35V405.35 M385.98 403.85L384.5 405.35 M388.99 402.59H391.05 M389.58 403.25H391.05 M388.1 404.45H391.05 M388.4 405.11H391.05 M388.99 403.25V404.75 M389.58 402.35V405.35 M390.17 403.25V405.35 M389.58 403.85L388.1 405.35" fill="none" stroke="#666" stroke-width="0.45"/>
<line x1="395.5" y1="351.3" x2="395.5" y2="406.7" stroke="#555" stroke-width="1"/>
<line x1="482.5" y1="351.3" x2="482.5" y2="406.7" stroke="#555" stroke-width="1"/>
<line x1="484.5" y1="351.3" x2="484.5" y2="406.7" stroke="#555" stroke-width="1"/>
<line x1="395.8" y1="351.5" x2="600" y2="351.5" stroke="#777" stroke-width="1.5"/>
<line x1="395.8" y1="359.5" x2="482.8" y2="359.5" stroke="#333" stroke-width="1.5"/>
<line x1="395.8" y1="367.5" x2="482.8" y2="367.5" stroke="#333" stroke-width="1.5"/>
<line x1="395.8" y1="375.5" x2="482.8" y2="375.5" stroke="#333" stroke-width="1"/>
<line x1="395.8" y1="383.5" x2="482.8" y2="383.5" stroke="#555" stroke-width="1"/>
<line x1="395.8" y1="391.5" x2="482.8" y2="391.5" stroke="#555" stroke-width="1"/>
<line x1="395.8" y1="400.5" x2="482.8" y2="400.5" stroke="#555" stroke-width="1"/>
<line x1="409.5" y1="351.3" x2="409.5" y2="383.3" stroke="#555" stroke-width="1"/>
<line x1="409.5" y1="391.7" x2="409.5" y2="406.7" stroke="#555" stroke-width="1"/>
<line x1="439.5" y1="351.3" x2="439.5" y2="383.3" stroke="#555" stroke-width="1"/>
<line x1="439.5" y1="391.7" x2="439.5" y2="406.7" stroke="#555" stroke-width="1"/>
<line x1="454.5" y1="351.3" x2="454.5" y2="383.3" stroke="#555" stroke-width="1"/>
<line x1="454.5" y1="391.7" x2="454.5" y2="406.7" stroke="#555" stroke-width="1"/>
<polygon points="398,357.25 400.3,353.25 402.6,357.25" fill="none" stroke="#111" stroke-width="0.6"/>
<text x="402.8" y="357.45" font-size="4.8" text-anchor="start" font-weight="normal" fill="#111" font-family="Liberation Sans" >C</text>
<polygon points="398,365.35 400.3,361.35 402.6,365.35" fill="none" stroke="#111" stroke-width="0.6"/>
<text x="402.8" y="365.55" font-size="4.8" text-anchor="start" font-weight="normal" fill="#111" font-family="Liberation Sans" >B</text>
<polygon points="398,373.65 400.3,369.65 402.6,373.65" fill="none" stroke="#111" stroke-width="0.6"/>
<text x="402.8" y="373.85" font-size="4.8" text-anchor="start" font-weight="normal" fill="#111" font-family="Liberation Sans" >A</text>
<path d="M399.51 378.32H401.52 M397.5 379.2H401.52 M397.5 380H401.52 M397.9 381.68H400.31 M398.71 378.8V381.2 M399.51 378.8V382 M402.8 379.2H406.42 M403.61 380H406.02 M402.4 381.68H406.42 M406.02 378V382" fill="none" stroke="#555" stroke-width="0.5"/>
<path d="M415.1 378.32H418.32 M414.7 379.2H418.72 M414.7 380.8H418.72 M414.7 381.68H418.32 M415.1 379.2V382 M416.71 379.2V382 M418.32 379.2V381.2 M416.71 380L414.7 382 M419.6 379.2H421.61 M419.6 380H422.41 M420.81 380.8H423.62 M421.61 381.68H423.62 M423.22 378V382 M424.5 380H428.52 M426.51 380.8H428.52 M425.71 378V382 M427.31 379.2V380.8 M429.4 378.32H431.41 M429.8 379.2H433.02 M429.8 380H433.42 M431.41 381.68H433.42 M429.8 378V382 M430.61 378V382 M432.21 378V382" fill="none" stroke="#555" stroke-width="0.5"/>
<path d="M440 379.2H444.02 M442.01 380H444.02 M440.4 381.68H442.01 M442.01 378.8V381.2 M445.3 378.32H448.92 M445.3 380H447.71 M446.11 379.2V380.8 M446.91 378.8V380.8 M447.71 378V382" fill="none" stroke="#555" stroke-width="0.5"/>
<path d="M464.51 379.2H466.11 M463.3 380H467.32 M463.7 380.8H465.31 M463.7 378V382 M464.51 379.2V382 M466.11 378V380.8 M465.31 380L463.3 382 M468.2 380H472.22 M470.21 380.8H471.82 M470.21 378V382 M473.1 380H477.12 M473.1 380.8H475.11 M473.5 378.8V381.2 M475.11 379.2V382" fill="none" stroke="#555" stroke-width="0.5"/>
<path d="M438.3 388.3H441.92 M438.3 389.18H441.11 M438.7 385.5V388.3 M439.51 385.5V389.5 M440.31 385.5V388.3 M440.31 387.5L438.3 389.5 M443.2 385.82H447.22 M444.41 386.7H446.01 M443.2 388.3H445.21 M445.21 385.5V388.3 M446.01 385.5V388.7 M445.21 387.5L447.22 389.5 M448.5 385.82H452.12 M448.1 387.5H452.12 M448.5 388.3H450.91 M448.5 386.3V388.3 M450.11 385.5V388.3 M450.91 386.7V389.5 M450.11 387.5L452.12 389.5 M455.01 385.82H457.02 M453 387.5H456.62 M455.01 388.3H457.02 M453.4 389.18H457.02 M455.81 386.3V388.7" fill="none" stroke="#555" stroke-width="0.5"/>
<path d="M397.5 393.82H401.52 M397.9 394.7H399.51 M399.51 393.5V397.5 M401.12 394.3V397.5 M399.51 395.5L401.52 397.5 M402.4 393.82H406.42 M403.61 395.5H406.42 M402.4 396.3H406.02 M403.61 397.18H406.42 M402.8 393.5V396.3 M403.61 393.5V397.5 M404.41 395.5L402.4 397.5" fill="none" stroke="#555" stroke-width="0.5"/>
<path d="M441.21 393.82H443.62 M441.21 394.7H442.81 M440 396.3H442.81 M441.21 397.18H444.02 M442.81 393.5V397.5 M442.01 395.5L440 397.5 M444.9 395.5H448.52 M446.91 396.3H448.92 M444.9 397.18H448.52 M446.11 393.5V397.5 M447.71 393.5V396.3 M448.52 393.5V397.5" fill="none" stroke="#555" stroke-width="0.5"/>
<path d="M397.5 402.02H401.52 M397.5 402.9H400.31 M398.71 403.7H401.52 M397.5 404.5H399.51 M397.9 402.9V405.7 M399.51 402.9V405.7 M400.31 401.7V404.5 M399.51 403.7L397.5 405.7 M402.8 402.02H406.42 M402.4 402.9H404.41 M402.4 404.5H406.02 M402.8 405.38H405.21 M402.8 401.7V404.5 M403.61 402.5V404.9" fill="none" stroke="#555" stroke-width="0.5"/>
<path d="M440 402.9H443.62 M441.21 403.7H442.81 M440 404.5H442.81 M440.4 402.9V405.7 M443.62 402.9V405.7 M444.9 402.02H448.52 M444.9 402.9H448.92 M445.3 403.7H447.71 M445.3 404.5H446.91 M445.3 401.7V404.9 M448.52 402.9V404.9" fill="none" stroke="#555" stroke-width="0.5"/>
<text x="424.5" y="404.8" font-size="2.6" text-anchor="middle" font-weight="normal" fill="#666" font-family="Liberation Sans" textLength="6" lengthAdjust="spacingAndGlyphs" >ZYX</text>
<text x="468.5" y="404.9" font-size="3.3" text-anchor="middle" font-weight="bold" fill="#111" font-family="Liberation Sans" textLength="19" lengthAdjust="spacingAndGlyphs"  stroke="#111" stroke-width="0.2">20221213</text>
<line x1="485" y1="351.2" x2="600" y2="375.2" stroke="#111" stroke-width="0.7"/>
<line x1="484.6" y1="375.5" x2="600" y2="375.5" stroke="#555" stroke-width="1"/>
<line x1="484.6" y1="384.5" x2="600" y2="384.5" stroke="#555" stroke-width="1"/>
<line x1="484.6" y1="391.5" x2="600" y2="391.5" stroke="#555" stroke-width="1"/>
<line x1="484.6" y1="399.5" x2="600" y2="399.5" stroke="#555" stroke-width="1"/>
<line x1="499.5" y1="375.4" x2="499.5" y2="406.7" stroke="#555" stroke-width="1"/>
<line x1="544.5" y1="391.4" x2="544.5" y2="406.7" stroke="#555" stroke-width="1"/>
<line x1="553.5" y1="391.4" x2="553.5" y2="406.7" stroke="#555" stroke-width="1"/>
<line x1="482.8" y1="359.5" x2="484.6" y2="359.5" stroke="#111" stroke-width="1"/>
<line x1="482.8" y1="367.5" x2="484.6" y2="367.5" stroke="#111" stroke-width="1"/>
<path d="M487.23 381H490.1 M486 381.8H490.1 M488.05 382.68H489.69 M487.23 379V382.2 M488.05 379V383 M488.87 379V383 M488.05 381L490.1 383 M491 379.32H495.1 M491 381H494.69 M491 381.8H494.69 M493.05 379V383 M493.87 379V381.8 M494.69 379V381.8 M493.05 381L495.1 383" fill="none" stroke="#555" stroke-width="0.5"/>
<path d="M486 385.72H488.05 M486 386.6H488.05 M486 387.4H490.1 M486 389.08H489.69 M487.23 385.4V388.2 M488.05 385.4V388.2 M491 385.72H495.1 M491 388.2H493.87 M492.23 386.2V389.4 M493.05 386.6V388.6 M494.69 386.6V388.2" fill="none" stroke="#555" stroke-width="0.5"/>
<path d="M486 395H490.1 M486 396.68H490.1 M486.41 393V395.8 M487.23 394.2V395.8 M491 394.2H495.1 M491.41 395H494.69 M491.41 393V396.2 M493.05 393.8V396.2 M493.87 393.8V397 M493.05 395L495.1 397" fill="none" stroke="#555" stroke-width="0.5"/>
<path d="M486 401.72H490.1 M488.05 402.6H490.1 M486 403.4H488.87 M486 404.2H489.69 M489.69 402.2V405.4 M488.05 403.4L490.1 405.4 M491 401.72H495.1 M491 402.6H495.1 M491 405.08H495.1 M493.05 402.2V404.6 M493.87 402.2V405.4" fill="none" stroke="#555" stroke-width="0.5"/>
<path d="M543.89 380.2H545.77 M543.89 381.8H545.39 M543.89 379V383 M545.39 379V383 M546.6 379.32H548.49 M547.73 381.8H550.37 M548.49 379V383 M548.49 381L550.37 383 M553.09 379.32H554.59 M551.58 380.2H553.09 M552.33 381H554.59 M551.2 381.8H554.59 M554.59 379.8V382.2 M553.09 381L554.97 383" fill="none" stroke="#444" stroke-width="0.5"/>
<text x="501.5" y="389.4" font-size="3.4" text-anchor="start" font-weight="normal" fill="#333" font-family="Liberation Sans" textLength="26" lengthAdjust="spacingAndGlyphs"  stroke="#333" stroke-width="0.12">HRS2-20221213-</text>
<path d="M529.48 386.84H530.66 M528 387.5H530.95 M528 388.7H529.48 M528.3 387.2V388.7 M529.48 386.6V389.6 M529.48 388.1L528 389.6 M531.6 386.84H534.55 M532.49 388.7H533.67 M531.9 389.36H533.08 M532.49 386.6V389.6 M533.08 388.1L531.6 389.6 M536.09 387.5H537.86 M536.68 388.1H538.15 M535.2 388.7H538.15 M535.2 389.36H536.68 M535.5 387.2V389 M536.68 386.6V389.6 M539.1 388.1H540.28 M538.8 389.36H541.46 M539.69 387.2V389 M540.28 387.2V389.6 M541.46 387.5V389.6 M540.28 388.1L541.75 389.6 M542.4 387.5H545.35 M542.4 388.1H543.88 M542.4 388.7H544.47 M542.4 389.36H543.88 M542.7 386.6V389.6 M544.47 386.6V389.6" fill="none" stroke="#444" stroke-width="0.4"/>
<text x="546" y="389.4" font-size="3.4" text-anchor="start" font-weight="normal" fill="#333" font-family="Liberation Sans" textLength="51" lengthAdjust="spacingAndGlyphs"  stroke="#333" stroke-width="0.12">36PIN-P2.0-35X35X3.7</text>
<text x="522.5" y="397.2" font-size="4.8" text-anchor="middle" font-weight="bold" fill="#111" font-family="Liberation Sans" textLength="7.5" lengthAdjust="spacingAndGlyphs"  stroke="#111" stroke-width="0.2">1:1</text>
<text x="522.5" y="405.3" font-size="4.8" text-anchor="middle" font-weight="bold" fill="#111" font-family="Liberation Sans" textLength="7.5" lengthAdjust="spacingAndGlyphs"  stroke="#111" stroke-width="0.2">1-1</text>
<path d="M545.32 394.34H548.2 M545 395.86H547.24 M545.96 393.2V397 M546.6 394.34V396.24 M547.24 393.96V395.86 M549.86 393.5H551.78 M548.9 394.34H552.1 M550.5 395.86H552.1 M551.78 393.2V397" fill="none" stroke="#555" stroke-width="0.5"/>
<path d="M546.6 402.74H548.2 M545 404.26H547.88 M545.32 405.1H548.2 M545.96 401.6V404.26 M546.6 401.6V405.4 M547.24 401.6V404.64 M546.6 403.5L545 405.4 M550.5 401.9H552.1 M548.9 402.74H551.78 M549.22 404.26H551.78 M551.14 402.74V405.4 M550.5 403.5L548.9 405.4" fill="none" stroke="#555" stroke-width="0.5"/>
<text x="576.5" y="397.6" font-size="4.8" text-anchor="middle" font-weight="bold" fill="#111" font-family="Liberation Sans" textLength="8.5" lengthAdjust="spacingAndGlyphs"  stroke="#111" stroke-width="0.2">mm</text>
<text x="576.5" y="405.4" font-size="4.8" text-anchor="middle" font-weight="bold" fill="#111" font-family="Liberation Sans" textLength="9" lengthAdjust="spacingAndGlyphs"  stroke="#111" stroke-width="0.2">V1.0</text>
</svg>
</body></html>
